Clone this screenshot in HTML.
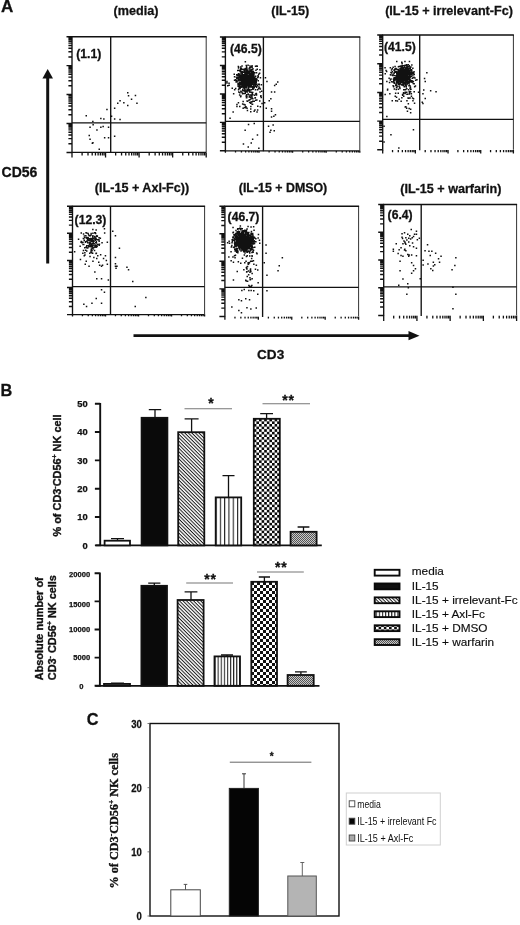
<!DOCTYPE html>
<html lang="en"><head><meta charset="utf-8"><title>Figure</title>
<style>
html,body{margin:0;padding:0;background:#fff;}
body{width:520px;height:925px;overflow:hidden;}
svg{display:block;}
text{font-family:"Liberation Sans",Arial,Helvetica,sans-serif;fill:#111;}
.b{font-weight:bold;stroke:#111;stroke-width:0.28px;}
.rot{stroke:#111;stroke-width:0.35px;}
.tl{stroke:#111;stroke-width:0.25px;}
.serif{font-family:"Liberation Serif","Times New Roman",serif;font-weight:bold;}
</style></head><body>
<svg width="520" height="925" viewBox="0 0 520 925">
<defs>
<pattern id="hatch" width="2.5" height="2.5" patternUnits="userSpaceOnUse" patternTransform="rotate(45)">
<rect width="2.5" height="2.5" fill="#fff"/><rect width="2.5" height="1.0" fill="#1a1a1a"/></pattern>
<pattern id="vstripe" width="4.3" height="4" patternUnits="userSpaceOnUse" x="215.5">
<rect width="4.3" height="4" fill="#fff"/><rect width="1.1" height="4" fill="#222"/></pattern>
<pattern id="vstripe2" width="3.1" height="4" patternUnits="userSpaceOnUse" x="214.5">
<rect width="3.1" height="4" fill="#fff"/><rect width="1.1" height="4" fill="#222"/></pattern>
<pattern id="check" width="5.2" height="5.2" patternUnits="userSpaceOnUse" x="253.8" y="418.8">
<rect width="5.2" height="5.2" fill="#fff"/><rect width="2.6" height="2.6" fill="#0a0a0a"/><rect x="2.6" y="2.6" width="2.6" height="2.6" fill="#0a0a0a"/></pattern>
<pattern id="check2" width="6" height="6" patternUnits="userSpaceOnUse" x="251">
<rect width="6" height="6" fill="#fff"/><rect width="3" height="3" fill="#111"/><rect x="3" y="3" width="3" height="3" fill="#111"/></pattern>
<pattern id="xhatch" width="2" height="2" patternUnits="userSpaceOnUse">
<rect width="2" height="2" fill="#c8c8c8"/><rect width="1" height="1" fill="#555"/><rect x="1" y="1" width="1" height="1" fill="#555"/></pattern>
</defs>
<rect width="520" height="925" fill="#fff"/>

<text class="b" x="1" y="11.8" font-size="17">A</text>
<text class="b" x="136" y="15.2" font-size="12.6" text-anchor="middle">(media)</text>
<text class="b" x="290.2" y="15.2" font-size="12.6" text-anchor="middle">(IL-15)</text>
<text class="b" x="449" y="15" font-size="12.6" text-anchor="middle">(IL-15 + irrelevant-Fc)</text>
<text class="b" x="142" y="192.3" font-size="12.6" text-anchor="middle">(IL-15 + Axl-Fc))</text>
<text class="b" x="283" y="192.3" font-size="12.4" text-anchor="middle">(IL-15 + DMSO)</text>
<text class="b" x="450.8" y="192.8" font-size="12.6" text-anchor="middle">(IL-15 + warfarin)</text>
<path d="M66.5 152.40H72.0M68.4 143.69H72.0M68.4 138.60H72.0M68.4 134.99H72.0M68.4 132.18H72.0M68.4 129.89H72.0M68.4 127.96H72.0M68.4 126.28H72.0M68.4 124.80H72.0M66.5 123.48H72.0M68.4 114.77H72.0M68.4 109.67H72.0M68.4 106.06H72.0M68.4 103.26H72.0M68.4 100.97H72.0M68.4 99.03H72.0M68.4 97.35H72.0M68.4 95.87H72.0M66.5 94.55H72.0M68.4 85.84H72.0M68.4 80.75H72.0M68.4 77.14H72.0M68.4 74.33H72.0M68.4 72.04H72.0M68.4 70.11H72.0M68.4 68.43H72.0M68.4 66.95H72.0M66.5 65.62H72.0M68.4 56.92H72.0M68.4 51.82H72.0M68.4 48.21H72.0M68.4 45.41H72.0M68.4 43.12H72.0M68.4 41.18H72.0M68.4 39.50H72.0M68.4 38.02H72.0M66.5 36.70H72.0" stroke="#111" stroke-width="1.45" fill="none"/>
<path d="M72.00 152.4V157.4M82.10 152.4V155.4M88.01 152.4V155.4M92.20 152.4V155.4M95.45 152.4V155.4M98.11 152.4V155.4M100.35 152.4V155.4M102.30 152.4V155.4M104.01 152.4V155.4M105.55 152.4V157.4M115.65 152.4V155.4M121.56 152.4V155.4M125.75 152.4V155.4M129.00 152.4V155.4M131.66 152.4V155.4M133.90 152.4V155.4M135.85 152.4V155.4M137.56 152.4V155.4M139.10 152.4V157.4M149.20 152.4V155.4M155.11 152.4V155.4M159.30 152.4V155.4M162.55 152.4V155.4M165.21 152.4V155.4M167.45 152.4V155.4M169.40 152.4V155.4M171.11 152.4V155.4M172.65 152.4V157.4M182.75 152.4V155.4M188.66 152.4V155.4M192.85 152.4V155.4M196.10 152.4V155.4M198.76 152.4V155.4M201.00 152.4V155.4M202.95 152.4V155.4M204.66 152.4V155.4M206.20 152.4V157.4" stroke="#111" stroke-width="1.3" fill="none"/>
<rect x="72" y="36.7" width="134.2" height="115.7" fill="#fff"/>
<path d="M206.2 36.7V152.4" stroke="#333" stroke-width="1" fill="none"/>
<path d="M72 152.4H206.2" stroke="#111" stroke-width="1.2" fill="none"/>
<path d="M72 153.0V36.7H206.7" stroke="#111" stroke-width="1.35" fill="none"/>
<path d="M110.7 36.7V152.9M72 122.8H206.2" stroke="#111" stroke-width="1.35" fill="none"/>
<path d="M85.5 115.1h1.5v1.5h-1.5zM92.1 120.8h1.5v1.5h-1.5zM100.1 117.8h1.5v1.5h-1.5zM103.1 118.2h1.5v1.5h-1.5zM106.2 108.8h1.5v1.5h-1.5zM113.9 107.5h1.5v1.5h-1.5zM117.0 102.4h1.5v1.5h-1.5zM119.3 100.1h1.5v1.5h-1.5zM123.1 101.9h1.5v1.5h-1.5zM127.0 92.1h1.5v1.5h-1.5zM127.8 95.1h1.5v1.5h-1.5zM130.8 98.5h1.5v1.5h-1.5zM134.7 94.7h1.5v1.5h-1.5zM127.0 104.7h1.5v1.5h-1.5zM136.2 102.4h1.5v1.5h-1.5zM113.9 118.2h1.5v1.5h-1.5zM119.3 118.8h1.5v1.5h-1.5zM110.8 115.5h1.5v1.5h-1.5zM89.3 126.5h1.5v1.5h-1.5zM92.4 123.9h1.5v1.5h-1.5zM96.2 129.3h1.5v1.5h-1.5zM100.1 126.5h1.5v1.5h-1.5zM102.4 125.8h1.5v1.5h-1.5zM107.8 126.5h1.5v1.5h-1.5zM88.5 134.7h1.5v1.5h-1.5zM89.3 138.5h1.5v1.5h-1.5zM91.6 142.4h1.5v1.5h-1.5zM92.2 141.9h1.5v1.5h-1.5zM103.9 137.0h1.5v1.5h-1.5zM107.8 137.0h1.5v1.5h-1.5zM113.9 135.5h1.5v1.5h-1.5zM98.5 148.5h1.5v1.5h-1.5z" fill="#111"/>
<text class="b" x="76.2" y="57.8" font-size="12.2">(1.1)</text>
<path d="M219.9 150.80H225.4M221.8 142.24H225.4M221.8 137.23H225.4M221.8 133.67H225.4M221.8 130.91H225.4M221.8 128.66H225.4M221.8 126.76H225.4M221.8 125.11H225.4M221.8 123.65H225.4M219.9 122.35H225.4M221.8 113.79H225.4M221.8 108.78H225.4M221.8 105.22H225.4M221.8 102.46H225.4M221.8 100.21H225.4M221.8 98.31H225.4M221.8 96.66H225.4M221.8 95.20H225.4M219.9 93.90H225.4M221.8 85.34H225.4M221.8 80.33H225.4M221.8 76.77H225.4M221.8 74.01H225.4M221.8 71.76H225.4M221.8 69.86H225.4M221.8 68.21H225.4M221.8 66.75H225.4M219.9 65.45H225.4M221.8 56.89H225.4M221.8 51.88H225.4M221.8 48.32H225.4M221.8 45.56H225.4M221.8 43.31H225.4M221.8 41.41H225.4M221.8 39.76H225.4M221.8 38.30H225.4M219.9 37.00H225.4" stroke="#111" stroke-width="1.45" fill="none"/>
<path d="M225.40 150.8V152.8M235.51 150.8V152.4M241.43 150.8V152.4M245.63 150.8V152.4M248.89 150.8V152.4M251.55 150.8V152.4M253.80 150.8V152.4M255.74 150.8V152.4M257.46 150.8V152.4M259.00 150.8V152.8M269.11 150.8V152.4M275.03 150.8V152.4M279.23 150.8V152.4M282.49 150.8V152.4M285.15 150.8V152.4M287.40 150.8V152.4M289.34 150.8V152.4M291.06 150.8V152.4M292.60 150.8V152.8M302.71 150.8V152.4M308.63 150.8V152.4M312.83 150.8V152.4M316.09 150.8V152.4M318.75 150.8V152.4M321.00 150.8V152.4M322.94 150.8V152.4M324.66 150.8V152.4M326.20 150.8V152.8M336.31 150.8V152.4M342.23 150.8V152.4M346.43 150.8V152.4M349.69 150.8V152.4M352.35 150.8V152.4M354.60 150.8V152.4M356.54 150.8V152.4M358.26 150.8V152.4M359.80 150.8V152.8" stroke="#111" stroke-width="1.3" fill="none"/>
<rect x="225.4" y="37" width="134.4" height="113.8" fill="#fff"/>
<path d="M359.8 37V150.8" stroke="#333" stroke-width="1" fill="none"/>
<path d="M225.4 150.8H359.8" stroke="#111" stroke-width="1.2" fill="none"/>
<path d="M225.4 151.4V37H360.3" stroke="#111" stroke-width="1.35" fill="none"/>
<path d="M263.4 37V151.3M225.4 121.4H359.8" stroke="#111" stroke-width="1.35" fill="none"/>
<path d="M245.1 80.9h1.5v1.5h-1.5zM245.3 76.7h1.5v1.5h-1.5zM242.0 77.2h1.5v1.5h-1.5zM251.4 80.4h1.5v1.5h-1.5zM251.1 79.5h1.5v1.5h-1.5zM248.1 79.2h1.5v1.5h-1.5zM238.6 82.6h1.5v1.5h-1.5zM248.6 80.8h1.5v1.5h-1.5zM238.5 69.6h1.5v1.5h-1.5zM242.2 76.0h1.5v1.5h-1.5zM247.7 78.1h1.5v1.5h-1.5zM248.7 75.1h1.5v1.5h-1.5zM247.7 80.3h1.5v1.5h-1.5zM243.3 86.9h1.5v1.5h-1.5zM248.9 84.3h1.5v1.5h-1.5zM243.4 74.6h1.5v1.5h-1.5zM244.7 77.8h1.5v1.5h-1.5zM249.2 79.5h1.5v1.5h-1.5zM244.2 73.5h1.5v1.5h-1.5zM243.9 84.4h1.5v1.5h-1.5zM242.6 79.5h1.5v1.5h-1.5zM248.3 70.9h1.5v1.5h-1.5zM246.5 84.8h1.5v1.5h-1.5zM237.0 76.7h1.5v1.5h-1.5zM245.8 74.2h1.5v1.5h-1.5zM248.6 78.0h1.5v1.5h-1.5zM239.6 82.4h1.5v1.5h-1.5zM249.4 83.0h1.5v1.5h-1.5zM252.9 80.1h1.5v1.5h-1.5zM246.8 71.8h1.5v1.5h-1.5zM249.1 75.2h1.5v1.5h-1.5zM244.2 72.0h1.5v1.5h-1.5zM241.8 75.6h1.5v1.5h-1.5zM252.2 68.1h1.5v1.5h-1.5zM239.6 79.5h1.5v1.5h-1.5zM252.9 81.2h1.5v1.5h-1.5zM237.6 65.7h1.5v1.5h-1.5zM247.9 74.6h1.5v1.5h-1.5zM241.1 83.2h1.5v1.5h-1.5zM251.4 79.1h1.5v1.5h-1.5zM247.4 80.5h1.5v1.5h-1.5zM253.6 81.4h1.5v1.5h-1.5zM248.7 81.0h1.5v1.5h-1.5zM239.1 84.7h1.5v1.5h-1.5zM250.7 80.9h1.5v1.5h-1.5zM237.2 75.1h1.5v1.5h-1.5zM250.2 69.2h1.5v1.5h-1.5zM245.5 83.4h1.5v1.5h-1.5zM240.3 86.4h1.5v1.5h-1.5zM248.8 77.5h1.5v1.5h-1.5zM247.8 81.5h1.5v1.5h-1.5zM246.9 84.0h1.5v1.5h-1.5zM243.3 76.2h1.5v1.5h-1.5zM251.1 78.4h1.5v1.5h-1.5zM242.2 83.0h1.5v1.5h-1.5zM253.0 76.1h1.5v1.5h-1.5zM240.0 77.6h1.5v1.5h-1.5zM245.6 76.8h1.5v1.5h-1.5zM252.8 73.2h1.5v1.5h-1.5zM252.1 72.0h1.5v1.5h-1.5zM242.7 81.5h1.5v1.5h-1.5zM251.5 82.6h1.5v1.5h-1.5zM247.9 79.0h1.5v1.5h-1.5zM247.0 81.2h1.5v1.5h-1.5zM245.5 79.7h1.5v1.5h-1.5zM248.9 78.3h1.5v1.5h-1.5zM249.8 81.1h1.5v1.5h-1.5zM255.5 79.9h1.5v1.5h-1.5zM244.3 76.4h1.5v1.5h-1.5zM246.2 82.9h1.5v1.5h-1.5zM244.8 80.2h1.5v1.5h-1.5zM254.8 65.5h1.5v1.5h-1.5zM241.1 79.5h1.5v1.5h-1.5zM248.1 79.5h1.5v1.5h-1.5zM244.3 81.6h1.5v1.5h-1.5zM247.6 75.7h1.5v1.5h-1.5zM257.5 80.1h1.5v1.5h-1.5zM243.8 77.8h1.5v1.5h-1.5zM245.3 78.0h1.5v1.5h-1.5zM233.8 75.9h1.5v1.5h-1.5zM250.9 72.5h1.5v1.5h-1.5zM246.0 83.1h1.5v1.5h-1.5zM250.2 85.8h1.5v1.5h-1.5zM238.5 76.5h1.5v1.5h-1.5zM244.7 81.4h1.5v1.5h-1.5zM251.3 64.9h1.5v1.5h-1.5zM251.3 71.1h1.5v1.5h-1.5zM249.4 70.8h1.5v1.5h-1.5zM247.1 84.3h1.5v1.5h-1.5zM245.6 79.3h1.5v1.5h-1.5zM250.0 79.0h1.5v1.5h-1.5zM245.9 86.0h1.5v1.5h-1.5zM251.1 76.8h1.5v1.5h-1.5zM258.9 72.6h1.5v1.5h-1.5zM250.5 77.0h1.5v1.5h-1.5zM246.9 81.8h1.5v1.5h-1.5zM247.3 81.5h1.5v1.5h-1.5zM239.3 70.8h1.5v1.5h-1.5zM249.1 73.5h1.5v1.5h-1.5zM241.6 70.9h1.5v1.5h-1.5zM252.1 82.0h1.5v1.5h-1.5zM253.1 73.6h1.5v1.5h-1.5zM246.3 72.6h1.5v1.5h-1.5zM249.8 86.2h1.5v1.5h-1.5zM242.2 86.1h1.5v1.5h-1.5zM250.8 77.4h1.5v1.5h-1.5zM237.2 85.3h1.5v1.5h-1.5zM245.9 75.3h1.5v1.5h-1.5zM248.1 80.3h1.5v1.5h-1.5zM253.2 73.2h1.5v1.5h-1.5zM251.5 85.7h1.5v1.5h-1.5zM253.0 77.4h1.5v1.5h-1.5zM242.9 83.4h1.5v1.5h-1.5zM246.8 78.9h1.5v1.5h-1.5zM252.9 77.0h1.5v1.5h-1.5zM235.7 76.4h1.5v1.5h-1.5zM237.8 82.4h1.5v1.5h-1.5zM247.8 75.2h1.5v1.5h-1.5zM246.3 82.5h1.5v1.5h-1.5zM246.7 84.9h1.5v1.5h-1.5zM246.0 83.5h1.5v1.5h-1.5zM253.2 86.3h1.5v1.5h-1.5zM243.2 82.7h1.5v1.5h-1.5zM237.7 72.9h1.5v1.5h-1.5zM237.3 83.6h1.5v1.5h-1.5zM240.6 78.2h1.5v1.5h-1.5zM245.4 78.2h1.5v1.5h-1.5zM243.6 79.5h1.5v1.5h-1.5zM254.5 78.5h1.5v1.5h-1.5zM248.7 83.3h1.5v1.5h-1.5zM245.4 72.0h1.5v1.5h-1.5zM243.7 83.7h1.5v1.5h-1.5zM238.7 75.3h1.5v1.5h-1.5zM250.9 82.3h1.5v1.5h-1.5zM246.3 82.3h1.5v1.5h-1.5zM247.1 72.4h1.5v1.5h-1.5zM239.1 75.1h1.5v1.5h-1.5zM250.5 75.5h1.5v1.5h-1.5zM242.1 74.4h1.5v1.5h-1.5zM239.3 77.7h1.5v1.5h-1.5zM240.9 80.1h1.5v1.5h-1.5zM235.4 79.9h1.5v1.5h-1.5zM243.3 68.6h1.5v1.5h-1.5zM249.6 76.9h1.5v1.5h-1.5zM236.0 73.9h1.5v1.5h-1.5zM247.6 76.0h1.5v1.5h-1.5zM249.9 82.0h1.5v1.5h-1.5zM249.4 79.9h1.5v1.5h-1.5zM252.4 81.6h1.5v1.5h-1.5zM248.4 67.9h1.5v1.5h-1.5zM250.4 84.8h1.5v1.5h-1.5zM244.9 76.0h1.5v1.5h-1.5zM255.2 69.5h1.5v1.5h-1.5zM248.5 90.4h1.5v1.5h-1.5zM242.0 81.7h1.5v1.5h-1.5zM255.0 77.7h1.5v1.5h-1.5zM248.9 82.8h1.5v1.5h-1.5zM242.1 77.9h1.5v1.5h-1.5zM247.6 82.4h1.5v1.5h-1.5zM246.1 77.3h1.5v1.5h-1.5zM241.6 76.5h1.5v1.5h-1.5zM250.4 78.8h1.5v1.5h-1.5zM242.4 74.1h1.5v1.5h-1.5zM258.6 84.0h1.5v1.5h-1.5zM249.2 65.3h1.5v1.5h-1.5zM249.2 80.7h1.5v1.5h-1.5zM254.0 80.4h1.5v1.5h-1.5zM246.0 80.9h1.5v1.5h-1.5zM237.4 83.5h1.5v1.5h-1.5zM247.8 74.8h1.5v1.5h-1.5zM252.4 87.3h1.5v1.5h-1.5zM239.8 75.0h1.5v1.5h-1.5zM247.6 79.2h1.5v1.5h-1.5zM244.5 73.4h1.5v1.5h-1.5zM256.1 83.5h1.5v1.5h-1.5zM240.8 71.6h1.5v1.5h-1.5zM254.1 83.2h1.5v1.5h-1.5zM254.7 82.4h1.5v1.5h-1.5zM242.3 79.6h1.5v1.5h-1.5zM236.4 74.6h1.5v1.5h-1.5zM246.0 80.9h1.5v1.5h-1.5zM243.0 77.7h1.5v1.5h-1.5zM248.4 80.2h1.5v1.5h-1.5zM249.2 79.3h1.5v1.5h-1.5zM244.8 82.2h1.5v1.5h-1.5zM246.5 74.2h1.5v1.5h-1.5zM243.4 78.3h1.5v1.5h-1.5zM245.8 79.1h1.5v1.5h-1.5zM246.3 79.2h1.5v1.5h-1.5zM245.7 72.0h1.5v1.5h-1.5zM248.2 83.6h1.5v1.5h-1.5zM248.3 77.4h1.5v1.5h-1.5zM248.4 73.5h1.5v1.5h-1.5zM237.6 78.6h1.5v1.5h-1.5zM242.0 82.0h1.5v1.5h-1.5zM241.3 65.2h1.5v1.5h-1.5zM241.5 86.2h1.5v1.5h-1.5zM244.5 71.5h1.5v1.5h-1.5zM242.8 80.9h1.5v1.5h-1.5zM248.6 79.2h1.5v1.5h-1.5zM253.1 81.8h1.5v1.5h-1.5zM246.2 81.3h1.5v1.5h-1.5zM253.9 83.2h1.5v1.5h-1.5zM251.0 72.9h1.5v1.5h-1.5zM245.6 81.9h1.5v1.5h-1.5zM244.9 83.6h1.5v1.5h-1.5zM249.0 82.8h1.5v1.5h-1.5zM245.3 91.0h1.5v1.5h-1.5zM252.0 77.2h1.5v1.5h-1.5zM246.7 91.3h1.5v1.5h-1.5zM244.7 82.7h1.5v1.5h-1.5zM250.8 78.3h1.5v1.5h-1.5zM240.9 79.2h1.5v1.5h-1.5zM248.0 83.9h1.5v1.5h-1.5zM249.9 78.4h1.5v1.5h-1.5zM250.2 81.0h1.5v1.5h-1.5zM247.2 78.6h1.5v1.5h-1.5zM245.2 81.7h1.5v1.5h-1.5zM241.5 75.2h1.5v1.5h-1.5zM246.3 71.0h1.5v1.5h-1.5zM244.3 68.3h1.5v1.5h-1.5zM243.2 81.1h1.5v1.5h-1.5zM248.9 78.0h1.5v1.5h-1.5zM245.2 71.2h1.5v1.5h-1.5zM254.7 80.9h1.5v1.5h-1.5zM251.3 73.9h1.5v1.5h-1.5zM245.4 69.2h1.5v1.5h-1.5zM249.9 83.0h1.5v1.5h-1.5zM237.6 78.0h1.5v1.5h-1.5zM249.2 69.5h1.5v1.5h-1.5zM237.9 73.0h1.5v1.5h-1.5zM243.4 71.3h1.5v1.5h-1.5zM246.4 79.5h1.5v1.5h-1.5zM249.2 81.8h1.5v1.5h-1.5zM253.2 84.1h1.5v1.5h-1.5zM240.3 75.8h1.5v1.5h-1.5zM241.4 72.9h1.5v1.5h-1.5zM245.9 78.3h1.5v1.5h-1.5zM248.6 70.4h1.5v1.5h-1.5zM240.6 78.2h1.5v1.5h-1.5zM245.4 76.7h1.5v1.5h-1.5zM246.0 74.5h1.5v1.5h-1.5zM249.5 80.1h1.5v1.5h-1.5zM245.9 74.9h1.5v1.5h-1.5zM245.5 64.7h1.5v1.5h-1.5zM241.8 78.5h1.5v1.5h-1.5zM239.4 79.3h1.5v1.5h-1.5zM247.0 71.4h1.5v1.5h-1.5zM245.1 76.7h1.5v1.5h-1.5zM248.4 81.4h1.5v1.5h-1.5zM246.1 74.0h1.5v1.5h-1.5zM245.6 78.0h1.5v1.5h-1.5zM249.7 79.8h1.5v1.5h-1.5zM243.0 71.5h1.5v1.5h-1.5zM244.6 74.6h1.5v1.5h-1.5zM241.2 77.7h1.5v1.5h-1.5zM244.0 78.8h1.5v1.5h-1.5zM248.7 76.2h1.5v1.5h-1.5zM257.0 76.7h1.5v1.5h-1.5zM251.4 78.9h1.5v1.5h-1.5zM251.4 66.4h1.5v1.5h-1.5zM242.8 79.5h1.5v1.5h-1.5zM249.1 90.0h1.5v1.5h-1.5zM247.8 84.7h1.5v1.5h-1.5zM249.8 83.0h1.5v1.5h-1.5zM248.6 77.5h1.5v1.5h-1.5zM248.6 72.9h1.5v1.5h-1.5zM251.7 73.2h1.5v1.5h-1.5zM247.4 88.9h1.5v1.5h-1.5zM245.3 78.4h1.5v1.5h-1.5zM251.6 78.4h1.5v1.5h-1.5zM242.6 79.6h1.5v1.5h-1.5zM249.0 81.9h1.5v1.5h-1.5zM242.7 87.1h1.5v1.5h-1.5zM254.0 78.4h1.5v1.5h-1.5zM247.5 76.2h1.5v1.5h-1.5zM252.8 74.8h1.5v1.5h-1.5zM249.4 75.9h1.5v1.5h-1.5zM243.1 81.9h1.5v1.5h-1.5zM252.4 78.2h1.5v1.5h-1.5zM243.2 82.4h1.5v1.5h-1.5zM246.1 79.9h1.5v1.5h-1.5zM253.3 84.0h1.5v1.5h-1.5zM243.9 89.7h1.5v1.5h-1.5zM246.3 82.2h1.5v1.5h-1.5zM243.3 78.1h1.5v1.5h-1.5zM238.3 87.2h1.5v1.5h-1.5zM252.6 72.2h1.5v1.5h-1.5zM239.4 70.2h1.5v1.5h-1.5zM251.7 76.0h1.5v1.5h-1.5zM246.0 76.7h1.5v1.5h-1.5zM245.7 72.9h1.5v1.5h-1.5zM246.4 71.1h1.5v1.5h-1.5zM246.0 79.8h1.5v1.5h-1.5zM248.5 77.1h1.5v1.5h-1.5zM242.1 79.1h1.5v1.5h-1.5zM244.1 86.1h1.5v1.5h-1.5zM249.8 77.7h1.5v1.5h-1.5zM244.1 74.8h1.5v1.5h-1.5zM242.0 76.5h1.5v1.5h-1.5zM247.7 80.9h1.5v1.5h-1.5zM248.9 88.8h1.5v1.5h-1.5zM243.1 78.4h1.5v1.5h-1.5zM259.2 69.0h1.5v1.5h-1.5zM243.9 79.1h1.5v1.5h-1.5zM247.0 80.3h1.5v1.5h-1.5zM245.2 80.1h1.5v1.5h-1.5zM246.5 82.2h1.5v1.5h-1.5zM237.6 73.9h1.5v1.5h-1.5zM246.3 73.1h1.5v1.5h-1.5zM241.5 81.4h1.5v1.5h-1.5zM243.3 81.5h1.5v1.5h-1.5zM249.7 79.8h1.5v1.5h-1.5zM248.6 77.8h1.5v1.5h-1.5zM239.8 78.1h1.5v1.5h-1.5zM248.4 75.7h1.5v1.5h-1.5zM245.8 82.0h1.5v1.5h-1.5zM242.3 81.5h1.5v1.5h-1.5zM254.9 75.5h1.5v1.5h-1.5zM247.0 77.5h1.5v1.5h-1.5zM253.4 79.9h1.5v1.5h-1.5zM250.4 74.8h1.5v1.5h-1.5zM246.2 78.3h1.5v1.5h-1.5zM238.1 85.5h1.5v1.5h-1.5zM250.4 69.6h1.5v1.5h-1.5zM249.7 77.6h1.5v1.5h-1.5zM248.4 80.1h1.5v1.5h-1.5zM239.4 77.2h1.5v1.5h-1.5zM253.2 75.4h1.5v1.5h-1.5zM241.6 71.5h1.5v1.5h-1.5zM240.7 80.0h1.5v1.5h-1.5zM254.1 80.4h1.5v1.5h-1.5zM247.4 89.5h1.5v1.5h-1.5zM243.9 74.9h1.5v1.5h-1.5zM248.7 81.0h1.5v1.5h-1.5zM241.6 72.5h1.5v1.5h-1.5zM247.6 79.5h1.5v1.5h-1.5zM240.3 77.3h1.5v1.5h-1.5zM243.8 80.6h1.5v1.5h-1.5zM245.8 77.9h1.5v1.5h-1.5zM244.7 83.6h1.5v1.5h-1.5zM252.7 76.5h1.5v1.5h-1.5zM250.2 74.5h1.5v1.5h-1.5zM246.6 82.0h1.5v1.5h-1.5zM253.3 76.4h1.5v1.5h-1.5zM246.0 79.3h1.5v1.5h-1.5zM239.4 78.4h1.5v1.5h-1.5zM243.2 80.2h1.5v1.5h-1.5zM241.1 68.4h1.5v1.5h-1.5zM246.5 79.6h1.5v1.5h-1.5zM243.8 82.7h1.5v1.5h-1.5zM245.0 75.3h1.5v1.5h-1.5zM248.5 70.5h1.5v1.5h-1.5zM243.2 78.2h1.5v1.5h-1.5zM250.2 77.5h1.5v1.5h-1.5zM247.7 75.0h1.5v1.5h-1.5zM247.7 86.6h1.5v1.5h-1.5zM243.1 90.1h1.5v1.5h-1.5zM243.3 78.4h1.5v1.5h-1.5zM247.1 83.4h1.5v1.5h-1.5zM240.6 67.8h1.5v1.5h-1.5zM249.1 82.3h1.5v1.5h-1.5zM249.2 91.5h1.5v1.5h-1.5zM247.2 79.6h1.5v1.5h-1.5zM250.6 80.1h1.5v1.5h-1.5zM254.0 72.1h1.5v1.5h-1.5zM244.6 61.1h1.5v1.5h-1.5zM250.0 76.4h1.5v1.5h-1.5zM250.6 89.1h1.5v1.5h-1.5zM246.3 77.0h1.5v1.5h-1.5zM244.0 74.1h1.5v1.5h-1.5zM243.4 81.5h1.5v1.5h-1.5zM246.5 78.6h1.5v1.5h-1.5zM245.5 82.9h1.5v1.5h-1.5zM248.6 77.6h1.5v1.5h-1.5zM249.4 77.5h1.5v1.5h-1.5zM241.0 85.6h1.5v1.5h-1.5zM248.4 73.5h1.5v1.5h-1.5zM251.3 80.0h1.5v1.5h-1.5zM239.1 86.3h1.5v1.5h-1.5zM247.8 82.8h1.5v1.5h-1.5zM247.2 77.6h1.5v1.5h-1.5zM239.2 83.2h1.5v1.5h-1.5zM246.4 76.9h1.5v1.5h-1.5zM247.9 78.7h1.5v1.5h-1.5zM249.4 76.4h1.5v1.5h-1.5zM246.1 67.6h1.5v1.5h-1.5zM244.4 81.7h1.5v1.5h-1.5zM252.4 76.5h1.5v1.5h-1.5zM245.7 86.2h1.5v1.5h-1.5zM244.8 82.0h1.5v1.5h-1.5zM254.0 78.5h1.5v1.5h-1.5zM251.9 74.7h1.5v1.5h-1.5zM247.3 77.9h1.5v1.5h-1.5zM246.8 83.9h1.5v1.5h-1.5zM257.3 75.0h1.5v1.5h-1.5zM243.7 80.8h1.5v1.5h-1.5zM241.4 80.8h1.5v1.5h-1.5zM248.9 76.9h1.5v1.5h-1.5zM248.7 70.6h1.5v1.5h-1.5zM249.8 70.6h1.5v1.5h-1.5zM243.1 75.5h1.5v1.5h-1.5zM244.5 82.6h1.5v1.5h-1.5zM246.7 76.3h1.5v1.5h-1.5zM248.8 86.2h1.5v1.5h-1.5zM246.3 80.1h1.5v1.5h-1.5zM252.0 79.6h1.5v1.5h-1.5zM240.4 90.8h1.5v1.5h-1.5zM256.5 68.4h1.5v1.5h-1.5zM246.1 80.4h1.5v1.5h-1.5zM250.7 81.6h1.5v1.5h-1.5zM245.0 73.0h1.5v1.5h-1.5zM246.8 83.5h1.5v1.5h-1.5zM241.3 73.2h1.5v1.5h-1.5zM246.2 68.6h1.5v1.5h-1.5zM245.1 76.1h1.5v1.5h-1.5zM248.4 74.8h1.5v1.5h-1.5zM242.2 76.3h1.5v1.5h-1.5zM246.1 75.0h1.5v1.5h-1.5zM246.4 82.1h1.5v1.5h-1.5zM251.8 86.8h1.5v1.5h-1.5zM242.7 76.2h1.5v1.5h-1.5zM234.9 87.8h1.5v1.5h-1.5zM243.0 78.1h1.5v1.5h-1.5zM248.7 71.5h1.5v1.5h-1.5zM248.4 78.2h1.5v1.5h-1.5zM237.9 79.8h1.5v1.5h-1.5zM251.8 69.0h1.5v1.5h-1.5zM250.0 79.3h1.5v1.5h-1.5zM248.5 80.5h1.5v1.5h-1.5zM252.3 77.2h1.5v1.5h-1.5zM250.3 76.3h1.5v1.5h-1.5zM249.6 74.2h1.5v1.5h-1.5zM245.8 87.0h1.5v1.5h-1.5zM248.3 77.5h1.5v1.5h-1.5zM241.0 74.3h1.5v1.5h-1.5zM247.2 83.0h1.5v1.5h-1.5zM248.3 80.9h1.5v1.5h-1.5zM246.1 85.1h1.5v1.5h-1.5zM244.5 75.6h1.5v1.5h-1.5zM250.4 78.6h1.5v1.5h-1.5zM245.0 75.4h1.5v1.5h-1.5zM245.1 81.4h1.5v1.5h-1.5zM247.9 72.3h1.5v1.5h-1.5zM248.3 79.2h1.5v1.5h-1.5zM241.7 82.2h1.5v1.5h-1.5zM245.0 76.6h1.5v1.5h-1.5zM250.0 84.9h1.5v1.5h-1.5zM243.1 80.5h1.5v1.5h-1.5zM242.3 89.9h1.5v1.5h-1.5zM244.0 84.3h1.5v1.5h-1.5zM243.3 82.4h1.5v1.5h-1.5zM256.5 65.6h1.5v1.5h-1.5zM244.3 80.8h1.5v1.5h-1.5zM245.9 75.0h1.5v1.5h-1.5zM256.2 78.7h1.5v1.5h-1.5zM238.7 82.6h1.5v1.5h-1.5zM238.4 84.1h1.5v1.5h-1.5zM243.6 79.0h1.5v1.5h-1.5zM252.1 78.9h1.5v1.5h-1.5zM239.9 69.8h1.5v1.5h-1.5zM251.7 82.0h1.5v1.5h-1.5zM242.5 82.6h1.5v1.5h-1.5zM248.6 81.5h1.5v1.5h-1.5zM235.9 76.8h1.5v1.5h-1.5zM250.4 82.0h1.5v1.5h-1.5zM250.4 66.0h1.5v1.5h-1.5zM247.1 80.8h1.5v1.5h-1.5zM258.0 73.5h1.5v1.5h-1.5zM244.8 78.5h1.5v1.5h-1.5zM250.4 76.1h1.5v1.5h-1.5zM251.6 74.4h1.5v1.5h-1.5zM247.5 75.7h1.5v1.5h-1.5zM247.0 74.8h1.5v1.5h-1.5zM239.0 83.8h1.5v1.5h-1.5zM247.7 75.5h1.5v1.5h-1.5zM247.2 83.3h1.5v1.5h-1.5zM241.8 77.7h1.5v1.5h-1.5zM248.8 80.9h1.5v1.5h-1.5zM244.8 67.8h1.5v1.5h-1.5zM252.0 79.9h1.5v1.5h-1.5zM246.4 76.9h1.5v1.5h-1.5zM247.5 76.2h1.5v1.5h-1.5zM241.6 74.6h1.5v1.5h-1.5zM243.6 75.2h1.5v1.5h-1.5zM241.0 81.5h1.5v1.5h-1.5zM240.3 81.6h1.5v1.5h-1.5zM241.6 80.1h1.5v1.5h-1.5zM252.6 79.3h1.5v1.5h-1.5zM242.9 78.5h1.5v1.5h-1.5zM247.0 69.6h1.5v1.5h-1.5zM243.5 79.1h1.5v1.5h-1.5zM244.1 78.7h1.5v1.5h-1.5zM249.7 82.1h1.5v1.5h-1.5zM250.5 81.2h1.5v1.5h-1.5zM245.0 78.2h1.5v1.5h-1.5zM245.1 76.7h1.5v1.5h-1.5zM245.5 69.7h1.5v1.5h-1.5zM244.8 78.2h1.5v1.5h-1.5zM241.8 78.2h1.5v1.5h-1.5zM248.7 77.5h1.5v1.5h-1.5zM255.9 65.3h1.5v1.5h-1.5zM245.4 69.2h1.5v1.5h-1.5zM250.8 91.6h1.5v1.5h-1.5zM234.8 78.9h1.5v1.5h-1.5zM248.7 76.8h1.5v1.5h-1.5zM248.8 67.1h1.5v1.5h-1.5zM250.2 80.2h1.5v1.5h-1.5zM246.4 75.4h1.5v1.5h-1.5zM249.2 75.9h1.5v1.5h-1.5zM247.3 75.7h1.5v1.5h-1.5zM236.0 78.1h1.5v1.5h-1.5zM247.2 82.1h1.5v1.5h-1.5zM242.3 78.1h1.5v1.5h-1.5zM249.1 79.0h1.5v1.5h-1.5zM252.0 88.3h1.5v1.5h-1.5zM242.1 68.7h1.5v1.5h-1.5zM250.2 85.9h1.5v1.5h-1.5zM250.5 82.4h1.5v1.5h-1.5zM243.5 74.7h1.5v1.5h-1.5zM250.4 73.7h1.5v1.5h-1.5zM238.0 73.3h1.5v1.5h-1.5zM257.8 87.9h1.5v1.5h-1.5zM243.1 74.7h1.5v1.5h-1.5zM247.4 74.6h1.5v1.5h-1.5zM252.3 77.9h1.5v1.5h-1.5zM241.3 84.8h1.5v1.5h-1.5zM243.6 79.4h1.5v1.5h-1.5zM246.2 76.7h1.5v1.5h-1.5zM247.8 74.8h1.5v1.5h-1.5zM237.8 67.3h1.5v1.5h-1.5zM240.5 74.5h1.5v1.5h-1.5zM246.2 78.6h1.5v1.5h-1.5zM248.9 78.9h1.5v1.5h-1.5zM242.7 74.8h1.5v1.5h-1.5zM236.6 77.5h1.5v1.5h-1.5zM248.5 80.9h1.5v1.5h-1.5zM245.7 77.4h1.5v1.5h-1.5zM250.6 78.4h1.5v1.5h-1.5zM249.7 81.2h1.5v1.5h-1.5zM247.3 84.8h1.5v1.5h-1.5zM243.7 76.5h1.5v1.5h-1.5zM242.6 74.3h1.5v1.5h-1.5zM253.5 87.1h1.5v1.5h-1.5zM246.4 81.1h1.5v1.5h-1.5zM251.7 82.3h1.5v1.5h-1.5zM251.8 72.0h1.5v1.5h-1.5zM243.4 80.6h1.5v1.5h-1.5zM252.9 78.8h1.5v1.5h-1.5zM242.4 76.5h1.5v1.5h-1.5zM243.3 74.0h1.5v1.5h-1.5zM253.2 75.2h1.5v1.5h-1.5zM246.4 89.1h1.5v1.5h-1.5zM251.7 80.0h1.5v1.5h-1.5zM243.5 80.4h1.5v1.5h-1.5zM253.8 81.4h1.5v1.5h-1.5zM252.1 78.8h1.5v1.5h-1.5zM248.7 77.3h1.5v1.5h-1.5zM248.3 84.8h1.5v1.5h-1.5zM239.7 78.0h1.5v1.5h-1.5zM247.4 75.4h1.5v1.5h-1.5zM244.9 82.2h1.5v1.5h-1.5zM255.5 81.4h1.5v1.5h-1.5zM247.8 70.5h1.5v1.5h-1.5zM255.2 78.7h1.5v1.5h-1.5zM246.1 72.7h1.5v1.5h-1.5zM246.0 72.8h1.5v1.5h-1.5zM246.6 80.6h1.5v1.5h-1.5zM246.4 79.7h1.5v1.5h-1.5zM242.4 85.4h1.5v1.5h-1.5zM243.3 69.2h1.5v1.5h-1.5zM245.4 74.5h1.5v1.5h-1.5zM241.7 76.5h1.5v1.5h-1.5zM247.6 72.4h1.5v1.5h-1.5zM245.7 85.4h1.5v1.5h-1.5zM249.4 77.5h1.5v1.5h-1.5zM246.9 77.7h1.5v1.5h-1.5zM246.1 82.0h1.5v1.5h-1.5zM245.9 66.3h1.5v1.5h-1.5zM246.2 73.9h1.5v1.5h-1.5zM249.3 75.2h1.5v1.5h-1.5zM247.0 89.2h1.5v1.5h-1.5zM241.5 72.7h1.5v1.5h-1.5zM239.8 66.3h1.5v1.5h-1.5zM237.7 80.1h1.5v1.5h-1.5zM243.4 69.0h1.5v1.5h-1.5zM239.5 81.4h1.5v1.5h-1.5zM242.7 76.5h1.5v1.5h-1.5zM247.8 85.1h1.5v1.5h-1.5zM255.2 83.5h1.5v1.5h-1.5zM247.0 79.2h1.5v1.5h-1.5zM254.6 85.4h1.5v1.5h-1.5zM244.9 80.6h1.5v1.5h-1.5zM247.6 78.6h1.5v1.5h-1.5zM244.0 71.7h1.5v1.5h-1.5zM243.8 70.6h1.5v1.5h-1.5zM251.9 81.0h1.5v1.5h-1.5zM240.8 85.3h1.5v1.5h-1.5zM250.4 68.8h1.5v1.5h-1.5zM254.8 82.3h1.5v1.5h-1.5zM255.8 72.1h1.5v1.5h-1.5zM248.7 80.4h1.5v1.5h-1.5zM247.2 79.2h1.5v1.5h-1.5zM251.1 70.8h1.5v1.5h-1.5zM240.6 71.3h1.5v1.5h-1.5zM243.7 75.3h1.5v1.5h-1.5zM248.0 79.6h1.5v1.5h-1.5zM246.4 74.9h1.5v1.5h-1.5zM244.3 83.1h1.5v1.5h-1.5zM249.8 78.8h1.5v1.5h-1.5zM244.8 86.1h1.5v1.5h-1.5zM243.6 81.5h1.5v1.5h-1.5zM251.6 77.0h1.5v1.5h-1.5zM250.1 72.7h1.5v1.5h-1.5zM251.0 79.3h1.5v1.5h-1.5zM239.0 81.6h1.5v1.5h-1.5zM242.2 84.7h1.5v1.5h-1.5zM243.2 77.5h1.5v1.5h-1.5zM247.6 76.6h1.5v1.5h-1.5zM247.5 75.5h1.5v1.5h-1.5zM249.4 78.3h1.5v1.5h-1.5zM247.3 64.5h1.5v1.5h-1.5zM251.6 78.5h1.5v1.5h-1.5zM238.1 78.8h1.5v1.5h-1.5zM248.4 83.7h1.5v1.5h-1.5zM241.3 86.0h1.5v1.5h-1.5zM245.6 90.3h1.5v1.5h-1.5zM245.6 81.7h1.5v1.5h-1.5zM244.6 72.7h1.5v1.5h-1.5zM251.3 82.8h1.5v1.5h-1.5zM253.4 82.6h1.5v1.5h-1.5zM243.7 70.0h1.5v1.5h-1.5zM243.3 74.9h1.5v1.5h-1.5zM242.6 81.2h1.5v1.5h-1.5zM247.8 77.0h1.5v1.5h-1.5zM247.1 77.6h1.5v1.5h-1.5zM247.3 82.1h1.5v1.5h-1.5zM250.7 74.9h1.5v1.5h-1.5zM239.4 85.4h1.5v1.5h-1.5zM246.8 83.8h1.5v1.5h-1.5zM238.7 76.7h1.5v1.5h-1.5zM246.4 71.1h1.5v1.5h-1.5zM243.9 81.9h1.5v1.5h-1.5zM251.3 86.3h1.5v1.5h-1.5zM242.3 71.3h1.5v1.5h-1.5zM248.7 83.0h1.5v1.5h-1.5zM247.2 71.8h1.5v1.5h-1.5zM249.9 82.3h1.5v1.5h-1.5zM248.8 75.9h1.5v1.5h-1.5zM247.7 82.3h1.5v1.5h-1.5zM243.7 69.1h1.5v1.5h-1.5zM247.8 80.7h1.5v1.5h-1.5zM246.4 82.7h1.5v1.5h-1.5zM243.6 77.9h1.5v1.5h-1.5zM244.9 81.2h1.5v1.5h-1.5zM253.6 77.0h1.5v1.5h-1.5zM255.8 85.9h1.5v1.5h-1.5zM249.9 81.2h1.5v1.5h-1.5zM254.4 77.4h1.5v1.5h-1.5zM245.8 73.0h1.5v1.5h-1.5zM248.5 85.0h1.5v1.5h-1.5zM248.7 80.4h1.5v1.5h-1.5zM245.4 79.1h1.5v1.5h-1.5zM239.7 83.5h1.5v1.5h-1.5zM244.4 72.8h1.5v1.5h-1.5zM242.8 74.2h1.5v1.5h-1.5zM250.2 83.6h1.5v1.5h-1.5zM240.1 82.9h1.5v1.5h-1.5zM250.4 75.4h1.5v1.5h-1.5zM239.5 74.6h1.5v1.5h-1.5zM243.4 80.0h1.5v1.5h-1.5zM244.7 68.2h1.5v1.5h-1.5zM247.4 70.6h1.5v1.5h-1.5zM250.5 72.3h1.5v1.5h-1.5zM243.1 74.0h1.5v1.5h-1.5zM243.8 84.8h1.5v1.5h-1.5zM250.2 81.3h1.5v1.5h-1.5zM247.8 70.6h1.5v1.5h-1.5zM243.9 75.5h1.5v1.5h-1.5zM241.8 80.8h1.5v1.5h-1.5zM242.1 78.0h1.5v1.5h-1.5zM240.0 67.9h1.5v1.5h-1.5zM251.5 93.3h1.5v1.5h-1.5zM248.5 76.0h1.5v1.5h-1.5zM228.4 84.6h1.5v1.5h-1.5zM255.8 85.5h1.5v1.5h-1.5zM253.8 94.4h1.5v1.5h-1.5zM255.2 80.0h1.5v1.5h-1.5zM254.7 89.1h1.5v1.5h-1.5zM236.5 80.3h1.5v1.5h-1.5zM237.3 82.5h1.5v1.5h-1.5zM251.3 75.3h1.5v1.5h-1.5zM232.9 93.0h1.5v1.5h-1.5zM249.9 94.3h1.5v1.5h-1.5zM238.0 91.3h1.5v1.5h-1.5zM245.8 85.3h1.5v1.5h-1.5zM246.2 90.8h1.5v1.5h-1.5zM254.6 84.0h1.5v1.5h-1.5zM237.8 88.9h1.5v1.5h-1.5zM244.0 88.0h1.5v1.5h-1.5zM249.1 95.5h1.5v1.5h-1.5zM255.3 79.9h1.5v1.5h-1.5zM249.7 96.5h1.5v1.5h-1.5zM243.5 86.6h1.5v1.5h-1.5zM255.6 92.7h1.5v1.5h-1.5zM250.9 73.4h1.5v1.5h-1.5zM238.5 85.2h1.5v1.5h-1.5zM250.0 102.4h1.5v1.5h-1.5zM241.3 91.8h1.5v1.5h-1.5zM252.7 70.8h1.5v1.5h-1.5zM241.6 84.5h1.5v1.5h-1.5zM243.8 82.1h1.5v1.5h-1.5zM250.6 77.2h1.5v1.5h-1.5zM250.6 78.5h1.5v1.5h-1.5zM243.5 87.3h1.5v1.5h-1.5zM243.3 85.5h1.5v1.5h-1.5zM258.5 83.5h1.5v1.5h-1.5zM246.3 88.8h1.5v1.5h-1.5zM244.7 91.4h1.5v1.5h-1.5zM238.3 87.9h1.5v1.5h-1.5zM243.7 77.3h1.5v1.5h-1.5zM259.7 76.9h1.5v1.5h-1.5zM259.6 88.2h1.5v1.5h-1.5zM257.5 76.0h1.5v1.5h-1.5zM255.7 94.2h1.5v1.5h-1.5zM246.5 82.3h1.5v1.5h-1.5zM244.3 78.6h1.5v1.5h-1.5zM250.4 85.8h1.5v1.5h-1.5zM248.5 96.2h1.5v1.5h-1.5zM245.0 86.8h1.5v1.5h-1.5zM257.5 75.8h1.5v1.5h-1.5zM254.6 97.0h1.5v1.5h-1.5zM237.8 75.1h1.5v1.5h-1.5zM240.0 69.5h1.5v1.5h-1.5zM250.5 69.4h1.5v1.5h-1.5zM250.8 94.2h1.5v1.5h-1.5zM236.0 80.9h1.5v1.5h-1.5zM233.9 89.1h1.5v1.5h-1.5zM242.1 81.3h1.5v1.5h-1.5zM247.7 87.4h1.5v1.5h-1.5zM244.9 83.4h1.5v1.5h-1.5zM243.5 84.2h1.5v1.5h-1.5zM239.1 83.8h1.5v1.5h-1.5zM233.8 79.6h1.5v1.5h-1.5zM260.7 83.9h1.5v1.5h-1.5zM238.5 85.2h1.5v1.5h-1.5zM240.5 70.9h1.5v1.5h-1.5zM242.1 88.8h1.5v1.5h-1.5zM250.0 82.6h1.5v1.5h-1.5zM240.8 75.2h1.5v1.5h-1.5zM256.7 85.1h1.5v1.5h-1.5zM240.6 67.5h1.5v1.5h-1.5zM237.7 101.9h1.5v1.5h-1.5zM239.3 82.7h1.5v1.5h-1.5zM248.8 82.1h1.5v1.5h-1.5zM245.4 73.0h1.5v1.5h-1.5zM239.9 96.0h1.5v1.5h-1.5zM242.0 89.6h1.5v1.5h-1.5zM235.4 81.2h1.5v1.5h-1.5zM249.1 91.1h1.5v1.5h-1.5zM239.4 87.8h1.5v1.5h-1.5zM250.0 77.8h1.5v1.5h-1.5zM250.6 76.6h1.5v1.5h-1.5zM241.7 83.2h1.5v1.5h-1.5zM228.3 82.5h1.5v1.5h-1.5zM240.3 72.3h1.5v1.5h-1.5zM244.3 89.0h1.5v1.5h-1.5zM244.5 92.8h1.5v1.5h-1.5zM239.2 73.5h1.5v1.5h-1.5zM258.2 86.3h1.5v1.5h-1.5zM253.9 77.1h1.5v1.5h-1.5zM252.9 85.2h1.5v1.5h-1.5zM251.8 83.5h1.5v1.5h-1.5zM255.7 78.4h1.5v1.5h-1.5zM240.6 72.2h1.5v1.5h-1.5zM255.4 77.8h1.5v1.5h-1.5zM240.0 76.3h1.5v1.5h-1.5zM244.2 73.8h1.5v1.5h-1.5zM245.3 78.6h1.5v1.5h-1.5zM243.4 76.1h1.5v1.5h-1.5zM247.6 79.8h1.5v1.5h-1.5zM248.1 85.2h1.5v1.5h-1.5zM249.7 66.9h1.5v1.5h-1.5zM243.6 77.3h1.5v1.5h-1.5zM252.7 71.5h1.5v1.5h-1.5zM242.3 81.1h1.5v1.5h-1.5zM244.9 90.7h1.5v1.5h-1.5zM244.2 90.5h1.5v1.5h-1.5zM237.0 69.7h1.5v1.5h-1.5zM255.8 86.6h1.5v1.5h-1.5zM250.7 84.2h1.5v1.5h-1.5zM250.7 74.2h1.5v1.5h-1.5zM253.9 79.3h1.5v1.5h-1.5zM254.2 84.0h1.5v1.5h-1.5zM233.5 73.6h1.5v1.5h-1.5zM255.2 82.3h1.5v1.5h-1.5zM244.5 85.1h1.5v1.5h-1.5zM244.3 79.2h1.5v1.5h-1.5zM248.0 84.4h1.5v1.5h-1.5zM257.9 83.6h1.5v1.5h-1.5zM260.5 96.8h1.5v1.5h-1.5zM259.3 91.3h1.5v1.5h-1.5zM248.2 84.3h1.5v1.5h-1.5zM246.3 77.8h1.5v1.5h-1.5zM246.8 78.5h1.5v1.5h-1.5zM258.8 87.3h1.5v1.5h-1.5zM244.2 68.9h1.5v1.5h-1.5zM246.9 80.2h1.5v1.5h-1.5zM239.7 74.8h1.5v1.5h-1.5zM231.5 87.6h1.5v1.5h-1.5zM250.1 98.3h1.5v1.5h-1.5zM259.0 100.2h1.5v1.5h-1.5zM251.3 96.7h1.5v1.5h-1.5zM246.7 109.8h1.5v1.5h-1.5zM256.3 111.3h1.5v1.5h-1.5zM248.2 99.5h1.5v1.5h-1.5zM245.0 106.1h1.5v1.5h-1.5zM241.9 103.3h1.5v1.5h-1.5zM256.9 109.2h1.5v1.5h-1.5zM244.7 106.9h1.5v1.5h-1.5zM246.0 94.0h1.5v1.5h-1.5zM242.4 107.4h1.5v1.5h-1.5zM260.2 95.1h1.5v1.5h-1.5zM245.7 96.9h1.5v1.5h-1.5zM246.3 107.6h1.5v1.5h-1.5zM246.2 95.7h1.5v1.5h-1.5zM239.0 105.7h1.5v1.5h-1.5zM243.8 106.7h1.5v1.5h-1.5zM240.1 90.4h1.5v1.5h-1.5zM252.0 94.0h1.5v1.5h-1.5zM255.0 99.4h1.5v1.5h-1.5zM243.3 103.7h1.5v1.5h-1.5zM261.3 102.8h1.5v1.5h-1.5zM246.0 96.9h1.5v1.5h-1.5zM256.8 89.1h1.5v1.5h-1.5zM248.9 101.7h1.5v1.5h-1.5zM240.2 95.2h1.5v1.5h-1.5zM253.4 110.4h1.5v1.5h-1.5zM254.3 97.2h1.5v1.5h-1.5zM243.2 92.7h1.5v1.5h-1.5zM246.3 100.3h1.5v1.5h-1.5zM250.0 111.0h1.5v1.5h-1.5zM252.0 91.8h1.5v1.5h-1.5zM259.6 105.9h1.5v1.5h-1.5zM250.9 94.3h1.5v1.5h-1.5zM239.1 92.1h1.5v1.5h-1.5zM255.8 93.7h1.5v1.5h-1.5zM242.4 100.7h1.5v1.5h-1.5zM251.8 103.5h1.5v1.5h-1.5zM254.2 109.2h1.5v1.5h-1.5zM245.3 106.2h1.5v1.5h-1.5zM244.4 104.2h1.5v1.5h-1.5zM251.4 101.0h1.5v1.5h-1.5zM256.1 99.2h1.5v1.5h-1.5zM257.0 105.4h1.5v1.5h-1.5zM251.1 95.3h1.5v1.5h-1.5zM245.8 95.6h1.5v1.5h-1.5zM249.1 99.1h1.5v1.5h-1.5zM254.9 93.3h1.5v1.5h-1.5zM246.0 97.1h1.5v1.5h-1.5zM251.5 92.0h1.5v1.5h-1.5zM260.0 95.4h1.5v1.5h-1.5zM250.3 101.2h1.5v1.5h-1.5zM251.4 103.5h1.5v1.5h-1.5zM252.0 100.4h1.5v1.5h-1.5zM238.9 94.3h1.5v1.5h-1.5zM236.2 103.7h1.5v1.5h-1.5zM252.1 97.9h1.5v1.5h-1.5zM245.4 95.2h1.5v1.5h-1.5zM250.0 108.3h1.5v1.5h-1.5zM247.4 93.2h1.5v1.5h-1.5zM246.9 100.6h1.5v1.5h-1.5zM250.6 101.2h1.5v1.5h-1.5zM250.1 105.8h1.5v1.5h-1.5zM261.0 90.6h1.5v1.5h-1.5zM251.3 97.4h1.5v1.5h-1.5zM252.4 88.6h1.5v1.5h-1.5zM253.5 100.6h1.5v1.5h-1.5zM248.1 94.0h1.5v1.5h-1.5zM241.8 92.9h1.5v1.5h-1.5zM264.7 77.1h1.5v1.5h-1.5zM266.2 80.8h1.5v1.5h-1.5zM277.0 81.2h1.5v1.5h-1.5zM275.5 83.5h1.5v1.5h-1.5zM273.9 84.8h1.5v1.5h-1.5zM270.8 91.2h1.5v1.5h-1.5zM273.9 91.2h1.5v1.5h-1.5zM270.1 98.1h1.5v1.5h-1.5zM268.5 100.1h1.5v1.5h-1.5zM263.9 102.0h1.5v1.5h-1.5zM265.5 107.4h1.5v1.5h-1.5zM270.8 108.1h1.5v1.5h-1.5zM270.8 110.5h1.5v1.5h-1.5zM274.7 114.0h1.5v1.5h-1.5zM273.1 115.5h1.5v1.5h-1.5zM270.8 116.3h1.5v1.5h-1.5zM267.8 125.4h1.5v1.5h-1.5zM272.4 124.3h1.5v1.5h-1.5zM270.1 129.4h1.5v1.5h-1.5zM273.5 130.0h1.5v1.5h-1.5zM269.3 131.5h1.5v1.5h-1.5zM247.8 123.8h1.5v1.5h-1.5zM253.5 122.8h1.5v1.5h-1.5zM244.4 129.4h1.5v1.5h-1.5zM256.7 134.3h1.5v1.5h-1.5zM251.9 138.6h1.5v1.5h-1.5zM242.7 143.2h1.5v1.5h-1.5zM250.5 142.3h1.5v1.5h-1.5zM247.5 146.3h1.5v1.5h-1.5zM258.1 147.4h1.5v1.5h-1.5zM226.2 80.8h1.5v1.5h-1.5zM226.2 82.3h1.5v1.5h-1.5zM227.0 85.1h1.5v1.5h-1.5zM229.3 117.4h1.5v1.5h-1.5zM232.4 111.2h1.5v1.5h-1.5zM236.2 105.8h1.5v1.5h-1.5z" fill="#111"/>
<text class="b" x="230" y="52.5" font-size="12.2">(46.5)</text>
<path d="M377.2 149.80H382.7M379.1 141.16H382.7M379.1 136.11H382.7M379.1 132.52H382.7M379.1 129.74H382.7M379.1 127.47H382.7M379.1 125.55H382.7M379.1 123.88H382.7M379.1 122.41H382.7M377.2 121.10H382.7M379.1 112.46H382.7M379.1 107.41H382.7M379.1 103.82H382.7M379.1 101.04H382.7M379.1 98.77H382.7M379.1 96.85H382.7M379.1 95.18H382.7M379.1 93.71H382.7M377.2 92.40H382.7M379.1 83.76H382.7M379.1 78.71H382.7M379.1 75.12H382.7M379.1 72.34H382.7M379.1 70.07H382.7M379.1 68.15H382.7M379.1 66.48H382.7M379.1 65.01H382.7M377.2 63.70H382.7M379.1 55.06H382.7M379.1 50.01H382.7M379.1 46.42H382.7M379.1 43.64H382.7M379.1 41.37H382.7M379.1 39.45H382.7M379.1 37.78H382.7M379.1 36.31H382.7M377.2 35.00H382.7" stroke="#111" stroke-width="1.45" fill="none"/>
<path d="M382.70 150.1V153.6M392.54 150.1V152.3M398.29 150.1V152.3M402.37 150.1V152.3M405.54 150.1V152.3M408.13 150.1V152.3M410.31 150.1V152.3M412.21 150.1V152.3M413.88 150.1V152.3M415.38 150.1V153.6M425.21 150.1V152.3M430.96 150.1V152.3M435.05 150.1V152.3M438.21 150.1V152.3M440.80 150.1V152.3M442.99 150.1V152.3M444.88 150.1V152.3M446.55 150.1V152.3M448.05 150.1V153.6M457.89 150.1V152.3M463.64 150.1V152.3M467.72 150.1V152.3M470.89 150.1V152.3M473.48 150.1V152.3M475.66 150.1V152.3M477.56 150.1V152.3M479.23 150.1V152.3M480.72 150.1V153.6M490.56 150.1V152.3M496.31 150.1V152.3M500.40 150.1V152.3M503.56 150.1V152.3M506.15 150.1V152.3M508.34 150.1V152.3M510.23 150.1V152.3M511.90 150.1V152.3M513.40 150.1V153.6" stroke="#111" stroke-width="1.3" fill="none"/>
<rect x="382.7" y="35" width="130.7" height="114.8" fill="#fff"/>
<path d="M513.4 35V149.8" stroke="#333" stroke-width="1" fill="none"/>
<path d="M382.7 150.4V35H513.9" stroke="#111" stroke-width="1.35" fill="none"/>
<path d="M419.7 35V150.3M382.7 119.3H513.4" stroke="#111" stroke-width="1.35" fill="none"/>
<path d="M405.7 76.5h1.5v1.5h-1.5zM402.2 76.4h1.5v1.5h-1.5zM399.3 74.2h1.5v1.5h-1.5zM402.5 76.6h1.5v1.5h-1.5zM402.0 73.2h1.5v1.5h-1.5zM401.6 70.8h1.5v1.5h-1.5zM413.2 76.4h1.5v1.5h-1.5zM404.4 84.9h1.5v1.5h-1.5zM409.2 66.4h1.5v1.5h-1.5zM405.7 77.9h1.5v1.5h-1.5zM411.5 80.2h1.5v1.5h-1.5zM406.1 68.2h1.5v1.5h-1.5zM398.0 75.2h1.5v1.5h-1.5zM404.8 69.0h1.5v1.5h-1.5zM400.4 72.0h1.5v1.5h-1.5zM402.6 75.5h1.5v1.5h-1.5zM400.9 68.0h1.5v1.5h-1.5zM408.4 81.6h1.5v1.5h-1.5zM401.8 78.8h1.5v1.5h-1.5zM404.5 77.1h1.5v1.5h-1.5zM404.7 70.2h1.5v1.5h-1.5zM405.1 78.8h1.5v1.5h-1.5zM397.9 83.3h1.5v1.5h-1.5zM412.5 82.7h1.5v1.5h-1.5zM412.0 77.5h1.5v1.5h-1.5zM400.6 71.0h1.5v1.5h-1.5zM398.3 74.5h1.5v1.5h-1.5zM402.1 77.1h1.5v1.5h-1.5zM392.4 85.0h1.5v1.5h-1.5zM413.5 73.8h1.5v1.5h-1.5zM405.6 76.2h1.5v1.5h-1.5zM403.6 72.9h1.5v1.5h-1.5zM401.7 69.9h1.5v1.5h-1.5zM403.2 73.8h1.5v1.5h-1.5zM403.9 69.8h1.5v1.5h-1.5zM402.5 74.1h1.5v1.5h-1.5zM405.3 68.8h1.5v1.5h-1.5zM404.4 78.6h1.5v1.5h-1.5zM405.2 72.1h1.5v1.5h-1.5zM399.9 72.8h1.5v1.5h-1.5zM405.9 81.4h1.5v1.5h-1.5zM401.5 70.8h1.5v1.5h-1.5zM404.1 74.9h1.5v1.5h-1.5zM397.9 70.4h1.5v1.5h-1.5zM401.8 77.1h1.5v1.5h-1.5zM396.5 69.0h1.5v1.5h-1.5zM404.7 68.0h1.5v1.5h-1.5zM402.8 75.6h1.5v1.5h-1.5zM401.8 69.0h1.5v1.5h-1.5zM402.0 72.3h1.5v1.5h-1.5zM403.9 69.9h1.5v1.5h-1.5zM407.6 65.9h1.5v1.5h-1.5zM401.4 73.9h1.5v1.5h-1.5zM407.0 71.0h1.5v1.5h-1.5zM405.0 71.2h1.5v1.5h-1.5zM405.9 82.2h1.5v1.5h-1.5zM400.3 76.0h1.5v1.5h-1.5zM397.8 78.6h1.5v1.5h-1.5zM408.2 74.1h1.5v1.5h-1.5zM396.7 75.8h1.5v1.5h-1.5zM407.9 79.1h1.5v1.5h-1.5zM406.3 65.1h1.5v1.5h-1.5zM399.0 80.7h1.5v1.5h-1.5zM396.3 79.3h1.5v1.5h-1.5zM411.5 77.6h1.5v1.5h-1.5zM407.8 72.3h1.5v1.5h-1.5zM396.3 73.4h1.5v1.5h-1.5zM401.3 73.7h1.5v1.5h-1.5zM405.7 73.2h1.5v1.5h-1.5zM403.2 75.9h1.5v1.5h-1.5zM402.3 82.7h1.5v1.5h-1.5zM404.5 74.3h1.5v1.5h-1.5zM401.3 70.9h1.5v1.5h-1.5zM408.9 74.6h1.5v1.5h-1.5zM397.0 71.2h1.5v1.5h-1.5zM401.6 71.8h1.5v1.5h-1.5zM407.6 68.3h1.5v1.5h-1.5zM404.7 74.6h1.5v1.5h-1.5zM396.5 74.1h1.5v1.5h-1.5zM401.8 76.3h1.5v1.5h-1.5zM400.1 75.4h1.5v1.5h-1.5zM394.1 68.7h1.5v1.5h-1.5zM406.1 78.9h1.5v1.5h-1.5zM402.2 71.0h1.5v1.5h-1.5zM407.6 63.9h1.5v1.5h-1.5zM398.4 77.1h1.5v1.5h-1.5zM405.5 68.9h1.5v1.5h-1.5zM393.1 80.9h1.5v1.5h-1.5zM403.0 69.6h1.5v1.5h-1.5zM402.6 78.2h1.5v1.5h-1.5zM389.6 79.2h1.5v1.5h-1.5zM405.9 63.9h1.5v1.5h-1.5zM406.1 65.4h1.5v1.5h-1.5zM407.9 75.8h1.5v1.5h-1.5zM413.3 71.0h1.5v1.5h-1.5zM402.3 78.9h1.5v1.5h-1.5zM399.2 70.5h1.5v1.5h-1.5zM400.5 73.6h1.5v1.5h-1.5zM397.0 76.2h1.5v1.5h-1.5zM405.0 74.2h1.5v1.5h-1.5zM410.6 72.3h1.5v1.5h-1.5zM408.7 71.3h1.5v1.5h-1.5zM406.0 64.6h1.5v1.5h-1.5zM403.3 73.1h1.5v1.5h-1.5zM399.9 71.0h1.5v1.5h-1.5zM400.6 70.4h1.5v1.5h-1.5zM391.6 71.0h1.5v1.5h-1.5zM399.6 71.4h1.5v1.5h-1.5zM397.1 73.2h1.5v1.5h-1.5zM406.1 72.7h1.5v1.5h-1.5zM399.9 80.4h1.5v1.5h-1.5zM407.1 78.3h1.5v1.5h-1.5zM408.0 72.3h1.5v1.5h-1.5zM401.7 79.2h1.5v1.5h-1.5zM399.6 73.3h1.5v1.5h-1.5zM404.2 75.7h1.5v1.5h-1.5zM400.9 78.6h1.5v1.5h-1.5zM401.4 77.4h1.5v1.5h-1.5zM407.5 77.1h1.5v1.5h-1.5zM405.9 68.3h1.5v1.5h-1.5zM395.9 70.9h1.5v1.5h-1.5zM404.6 81.1h1.5v1.5h-1.5zM396.3 75.4h1.5v1.5h-1.5zM398.1 70.4h1.5v1.5h-1.5zM400.9 77.2h1.5v1.5h-1.5zM403.3 79.6h1.5v1.5h-1.5zM397.5 78.2h1.5v1.5h-1.5zM406.9 74.2h1.5v1.5h-1.5zM404.6 71.2h1.5v1.5h-1.5zM397.0 72.0h1.5v1.5h-1.5zM399.2 87.8h1.5v1.5h-1.5zM399.9 81.8h1.5v1.5h-1.5zM403.3 75.4h1.5v1.5h-1.5zM405.9 70.2h1.5v1.5h-1.5zM406.8 75.7h1.5v1.5h-1.5zM394.9 76.8h1.5v1.5h-1.5zM405.0 76.1h1.5v1.5h-1.5zM410.1 71.9h1.5v1.5h-1.5zM404.8 77.5h1.5v1.5h-1.5zM397.9 79.7h1.5v1.5h-1.5zM395.2 67.7h1.5v1.5h-1.5zM404.9 68.7h1.5v1.5h-1.5zM401.7 66.0h1.5v1.5h-1.5zM402.6 68.5h1.5v1.5h-1.5zM404.0 66.5h1.5v1.5h-1.5zM404.5 72.6h1.5v1.5h-1.5zM402.6 73.6h1.5v1.5h-1.5zM402.9 67.6h1.5v1.5h-1.5zM389.7 74.1h1.5v1.5h-1.5zM397.7 71.7h1.5v1.5h-1.5zM404.4 64.4h1.5v1.5h-1.5zM398.6 71.0h1.5v1.5h-1.5zM397.1 75.5h1.5v1.5h-1.5zM401.6 70.0h1.5v1.5h-1.5zM397.5 77.8h1.5v1.5h-1.5zM399.1 76.7h1.5v1.5h-1.5zM404.5 64.8h1.5v1.5h-1.5zM397.0 73.9h1.5v1.5h-1.5zM404.0 77.6h1.5v1.5h-1.5zM406.2 78.9h1.5v1.5h-1.5zM400.5 72.9h1.5v1.5h-1.5zM406.1 71.9h1.5v1.5h-1.5zM407.5 66.3h1.5v1.5h-1.5zM405.5 73.1h1.5v1.5h-1.5zM392.7 78.6h1.5v1.5h-1.5zM403.8 74.0h1.5v1.5h-1.5zM397.0 71.7h1.5v1.5h-1.5zM409.7 69.9h1.5v1.5h-1.5zM385.3 69.8h1.5v1.5h-1.5zM396.4 73.3h1.5v1.5h-1.5zM400.4 69.5h1.5v1.5h-1.5zM398.2 78.9h1.5v1.5h-1.5zM395.2 83.3h1.5v1.5h-1.5zM399.6 68.7h1.5v1.5h-1.5zM406.2 76.6h1.5v1.5h-1.5zM397.2 77.5h1.5v1.5h-1.5zM393.3 69.5h1.5v1.5h-1.5zM407.8 72.7h1.5v1.5h-1.5zM395.9 76.4h1.5v1.5h-1.5zM406.8 73.8h1.5v1.5h-1.5zM393.4 72.2h1.5v1.5h-1.5zM404.3 77.6h1.5v1.5h-1.5zM411.4 72.7h1.5v1.5h-1.5zM399.9 73.7h1.5v1.5h-1.5zM408.2 69.4h1.5v1.5h-1.5zM408.7 60.7h1.5v1.5h-1.5zM406.2 70.7h1.5v1.5h-1.5zM404.5 77.2h1.5v1.5h-1.5zM396.5 73.5h1.5v1.5h-1.5zM403.5 76.7h1.5v1.5h-1.5zM397.7 69.1h1.5v1.5h-1.5zM392.9 86.1h1.5v1.5h-1.5zM401.4 72.8h1.5v1.5h-1.5zM395.0 78.4h1.5v1.5h-1.5zM399.7 80.8h1.5v1.5h-1.5zM406.5 74.0h1.5v1.5h-1.5zM405.9 68.6h1.5v1.5h-1.5zM400.7 71.1h1.5v1.5h-1.5zM396.1 74.0h1.5v1.5h-1.5zM401.6 80.8h1.5v1.5h-1.5zM385.9 70.7h1.5v1.5h-1.5zM397.8 71.7h1.5v1.5h-1.5zM404.4 75.8h1.5v1.5h-1.5zM402.4 71.6h1.5v1.5h-1.5zM404.7 75.6h1.5v1.5h-1.5zM393.3 72.6h1.5v1.5h-1.5zM395.6 68.2h1.5v1.5h-1.5zM403.0 74.2h1.5v1.5h-1.5zM402.9 69.7h1.5v1.5h-1.5zM401.3 69.5h1.5v1.5h-1.5zM404.2 77.2h1.5v1.5h-1.5zM410.9 80.0h1.5v1.5h-1.5zM398.4 71.7h1.5v1.5h-1.5zM397.7 75.4h1.5v1.5h-1.5zM412.0 77.3h1.5v1.5h-1.5zM391.5 67.9h1.5v1.5h-1.5zM396.0 76.4h1.5v1.5h-1.5zM402.3 75.3h1.5v1.5h-1.5zM411.0 69.9h1.5v1.5h-1.5zM398.1 83.3h1.5v1.5h-1.5zM404.0 70.2h1.5v1.5h-1.5zM392.4 66.6h1.5v1.5h-1.5zM390.3 74.2h1.5v1.5h-1.5zM402.5 78.7h1.5v1.5h-1.5zM401.6 70.6h1.5v1.5h-1.5zM398.7 83.0h1.5v1.5h-1.5zM393.6 74.7h1.5v1.5h-1.5zM402.4 76.9h1.5v1.5h-1.5zM400.3 76.3h1.5v1.5h-1.5zM406.3 73.2h1.5v1.5h-1.5zM400.1 73.0h1.5v1.5h-1.5zM397.6 72.9h1.5v1.5h-1.5zM400.8 74.9h1.5v1.5h-1.5zM408.8 80.2h1.5v1.5h-1.5zM400.1 76.8h1.5v1.5h-1.5zM403.7 77.6h1.5v1.5h-1.5zM402.4 75.2h1.5v1.5h-1.5zM400.0 70.1h1.5v1.5h-1.5zM406.6 80.1h1.5v1.5h-1.5zM405.5 76.0h1.5v1.5h-1.5zM403.6 71.7h1.5v1.5h-1.5zM393.6 77.1h1.5v1.5h-1.5zM403.3 71.2h1.5v1.5h-1.5zM397.6 80.0h1.5v1.5h-1.5zM393.5 82.4h1.5v1.5h-1.5zM405.4 85.3h1.5v1.5h-1.5zM398.8 73.8h1.5v1.5h-1.5zM399.8 74.6h1.5v1.5h-1.5zM401.3 70.3h1.5v1.5h-1.5zM407.6 70.1h1.5v1.5h-1.5zM399.8 76.6h1.5v1.5h-1.5zM399.7 71.8h1.5v1.5h-1.5zM404.0 72.1h1.5v1.5h-1.5zM396.2 73.4h1.5v1.5h-1.5zM401.2 82.1h1.5v1.5h-1.5zM396.9 78.6h1.5v1.5h-1.5zM398.4 72.2h1.5v1.5h-1.5zM400.7 75.2h1.5v1.5h-1.5zM406.5 82.3h1.5v1.5h-1.5zM399.2 80.3h1.5v1.5h-1.5zM407.2 77.8h1.5v1.5h-1.5zM398.6 78.2h1.5v1.5h-1.5zM401.8 75.6h1.5v1.5h-1.5zM401.0 77.1h1.5v1.5h-1.5zM407.8 79.3h1.5v1.5h-1.5zM401.3 78.7h1.5v1.5h-1.5zM409.4 69.4h1.5v1.5h-1.5zM409.5 67.5h1.5v1.5h-1.5zM405.0 76.8h1.5v1.5h-1.5zM409.6 75.2h1.5v1.5h-1.5zM399.9 70.1h1.5v1.5h-1.5zM396.2 77.6h1.5v1.5h-1.5zM401.1 70.5h1.5v1.5h-1.5zM404.9 70.2h1.5v1.5h-1.5zM400.2 71.7h1.5v1.5h-1.5zM410.4 80.9h1.5v1.5h-1.5zM401.5 66.4h1.5v1.5h-1.5zM403.7 74.2h1.5v1.5h-1.5zM404.0 76.6h1.5v1.5h-1.5zM400.7 78.3h1.5v1.5h-1.5zM406.4 74.9h1.5v1.5h-1.5zM400.3 71.6h1.5v1.5h-1.5zM405.7 68.6h1.5v1.5h-1.5zM401.5 70.3h1.5v1.5h-1.5zM395.5 76.8h1.5v1.5h-1.5zM402.2 74.1h1.5v1.5h-1.5zM406.6 66.7h1.5v1.5h-1.5zM402.0 75.3h1.5v1.5h-1.5zM406.4 68.7h1.5v1.5h-1.5zM405.8 75.0h1.5v1.5h-1.5zM408.9 79.4h1.5v1.5h-1.5zM405.0 84.2h1.5v1.5h-1.5zM402.3 71.9h1.5v1.5h-1.5zM400.6 69.4h1.5v1.5h-1.5zM402.2 64.9h1.5v1.5h-1.5zM401.9 75.9h1.5v1.5h-1.5zM407.2 72.2h1.5v1.5h-1.5zM409.1 70.8h1.5v1.5h-1.5zM401.6 64.9h1.5v1.5h-1.5zM398.6 70.1h1.5v1.5h-1.5zM409.4 76.4h1.5v1.5h-1.5zM397.0 76.4h1.5v1.5h-1.5zM404.6 72.8h1.5v1.5h-1.5zM402.4 72.5h1.5v1.5h-1.5zM399.7 65.6h1.5v1.5h-1.5zM401.9 79.9h1.5v1.5h-1.5zM409.2 72.6h1.5v1.5h-1.5zM398.7 72.9h1.5v1.5h-1.5zM406.6 75.5h1.5v1.5h-1.5zM399.5 75.6h1.5v1.5h-1.5zM401.3 76.3h1.5v1.5h-1.5zM400.4 67.0h1.5v1.5h-1.5zM402.6 77.5h1.5v1.5h-1.5zM397.0 73.4h1.5v1.5h-1.5zM406.5 72.1h1.5v1.5h-1.5zM399.2 83.4h1.5v1.5h-1.5zM406.3 78.7h1.5v1.5h-1.5zM397.8 81.5h1.5v1.5h-1.5zM394.4 71.5h1.5v1.5h-1.5zM405.8 80.1h1.5v1.5h-1.5zM397.9 70.8h1.5v1.5h-1.5zM403.2 64.9h1.5v1.5h-1.5zM405.3 76.5h1.5v1.5h-1.5zM400.2 76.4h1.5v1.5h-1.5zM406.0 75.3h1.5v1.5h-1.5zM404.8 81.0h1.5v1.5h-1.5zM400.0 74.7h1.5v1.5h-1.5zM399.8 78.7h1.5v1.5h-1.5zM400.4 76.1h1.5v1.5h-1.5zM403.0 74.2h1.5v1.5h-1.5zM410.5 73.5h1.5v1.5h-1.5zM409.0 77.7h1.5v1.5h-1.5zM408.6 73.1h1.5v1.5h-1.5zM406.7 77.4h1.5v1.5h-1.5zM399.4 75.2h1.5v1.5h-1.5zM401.7 73.7h1.5v1.5h-1.5zM408.5 70.6h1.5v1.5h-1.5zM394.3 65.8h1.5v1.5h-1.5zM400.2 70.9h1.5v1.5h-1.5zM402.4 76.5h1.5v1.5h-1.5zM410.6 75.3h1.5v1.5h-1.5zM404.5 70.5h1.5v1.5h-1.5zM405.0 80.2h1.5v1.5h-1.5zM408.6 64.9h1.5v1.5h-1.5zM406.5 81.2h1.5v1.5h-1.5zM406.2 67.0h1.5v1.5h-1.5zM400.8 76.6h1.5v1.5h-1.5zM404.3 70.1h1.5v1.5h-1.5zM398.1 78.4h1.5v1.5h-1.5zM396.0 80.5h1.5v1.5h-1.5zM402.4 75.3h1.5v1.5h-1.5zM396.0 71.1h1.5v1.5h-1.5zM405.6 67.1h1.5v1.5h-1.5zM412.1 67.4h1.5v1.5h-1.5zM396.5 74.1h1.5v1.5h-1.5zM404.6 77.3h1.5v1.5h-1.5zM400.6 72.9h1.5v1.5h-1.5zM401.2 71.2h1.5v1.5h-1.5zM390.2 78.3h1.5v1.5h-1.5zM403.5 74.6h1.5v1.5h-1.5zM399.3 75.1h1.5v1.5h-1.5zM402.2 73.5h1.5v1.5h-1.5zM407.5 66.0h1.5v1.5h-1.5zM403.5 69.0h1.5v1.5h-1.5zM400.8 80.8h1.5v1.5h-1.5zM397.2 73.4h1.5v1.5h-1.5zM399.5 78.3h1.5v1.5h-1.5zM397.7 66.1h1.5v1.5h-1.5zM404.7 72.3h1.5v1.5h-1.5zM400.8 78.9h1.5v1.5h-1.5zM398.1 72.2h1.5v1.5h-1.5zM403.0 75.8h1.5v1.5h-1.5zM399.9 78.7h1.5v1.5h-1.5zM412.8 72.0h1.5v1.5h-1.5zM411.1 64.2h1.5v1.5h-1.5zM408.9 72.3h1.5v1.5h-1.5zM402.9 72.3h1.5v1.5h-1.5zM399.3 68.0h1.5v1.5h-1.5zM400.4 79.9h1.5v1.5h-1.5zM407.7 72.3h1.5v1.5h-1.5zM399.8 70.7h1.5v1.5h-1.5zM396.7 82.2h1.5v1.5h-1.5zM405.4 74.4h1.5v1.5h-1.5zM400.0 69.2h1.5v1.5h-1.5zM408.5 77.5h1.5v1.5h-1.5zM397.8 78.5h1.5v1.5h-1.5zM397.1 76.9h1.5v1.5h-1.5zM397.8 72.0h1.5v1.5h-1.5zM404.6 75.9h1.5v1.5h-1.5zM407.1 70.0h1.5v1.5h-1.5zM409.7 80.1h1.5v1.5h-1.5zM402.3 76.0h1.5v1.5h-1.5zM398.6 73.2h1.5v1.5h-1.5zM396.1 74.3h1.5v1.5h-1.5zM403.2 80.1h1.5v1.5h-1.5zM406.8 77.7h1.5v1.5h-1.5zM400.6 72.9h1.5v1.5h-1.5zM400.7 74.9h1.5v1.5h-1.5zM393.2 77.5h1.5v1.5h-1.5zM394.9 71.5h1.5v1.5h-1.5zM402.4 71.5h1.5v1.5h-1.5zM410.1 73.4h1.5v1.5h-1.5zM409.7 79.3h1.5v1.5h-1.5zM400.0 75.7h1.5v1.5h-1.5zM408.4 72.4h1.5v1.5h-1.5zM402.7 71.3h1.5v1.5h-1.5zM402.6 72.3h1.5v1.5h-1.5zM402.7 78.5h1.5v1.5h-1.5zM408.9 74.5h1.5v1.5h-1.5zM403.2 77.8h1.5v1.5h-1.5zM400.9 69.0h1.5v1.5h-1.5zM407.5 69.6h1.5v1.5h-1.5zM406.7 69.5h1.5v1.5h-1.5zM410.9 69.1h1.5v1.5h-1.5zM406.3 80.8h1.5v1.5h-1.5zM397.8 80.7h1.5v1.5h-1.5zM398.4 65.8h1.5v1.5h-1.5zM405.7 77.1h1.5v1.5h-1.5zM401.3 62.3h1.5v1.5h-1.5zM402.0 72.5h1.5v1.5h-1.5zM400.5 72.6h1.5v1.5h-1.5zM393.9 71.3h1.5v1.5h-1.5zM410.8 81.0h1.5v1.5h-1.5zM400.6 70.6h1.5v1.5h-1.5zM404.2 78.8h1.5v1.5h-1.5zM405.7 68.5h1.5v1.5h-1.5zM403.1 74.5h1.5v1.5h-1.5zM409.1 79.4h1.5v1.5h-1.5zM404.8 79.5h1.5v1.5h-1.5zM400.4 81.0h1.5v1.5h-1.5zM400.3 75.7h1.5v1.5h-1.5zM406.6 69.7h1.5v1.5h-1.5zM399.0 65.8h1.5v1.5h-1.5zM403.1 73.6h1.5v1.5h-1.5zM400.8 76.2h1.5v1.5h-1.5zM392.3 73.8h1.5v1.5h-1.5zM402.7 72.7h1.5v1.5h-1.5zM406.0 82.0h1.5v1.5h-1.5zM400.2 69.6h1.5v1.5h-1.5zM399.5 74.3h1.5v1.5h-1.5zM405.1 69.9h1.5v1.5h-1.5zM407.0 69.2h1.5v1.5h-1.5zM406.2 75.9h1.5v1.5h-1.5zM404.5 83.8h1.5v1.5h-1.5zM401.1 73.1h1.5v1.5h-1.5zM404.5 77.9h1.5v1.5h-1.5zM396.0 75.2h1.5v1.5h-1.5zM398.8 76.8h1.5v1.5h-1.5zM408.7 74.1h1.5v1.5h-1.5zM401.8 74.7h1.5v1.5h-1.5zM388.4 77.5h1.5v1.5h-1.5zM404.9 74.7h1.5v1.5h-1.5zM400.4 70.5h1.5v1.5h-1.5zM401.5 79.5h1.5v1.5h-1.5zM401.8 80.1h1.5v1.5h-1.5zM390.2 71.8h1.5v1.5h-1.5zM403.6 73.8h1.5v1.5h-1.5zM394.5 70.8h1.5v1.5h-1.5zM408.2 67.9h1.5v1.5h-1.5zM397.6 68.8h1.5v1.5h-1.5zM399.7 76.9h1.5v1.5h-1.5zM405.1 64.5h1.5v1.5h-1.5zM409.2 71.2h1.5v1.5h-1.5zM399.5 81.6h1.5v1.5h-1.5zM401.9 68.2h1.5v1.5h-1.5zM399.3 70.6h1.5v1.5h-1.5zM397.6 72.4h1.5v1.5h-1.5zM406.4 75.5h1.5v1.5h-1.5zM395.8 86.7h1.5v1.5h-1.5zM397.6 74.4h1.5v1.5h-1.5zM402.4 77.4h1.5v1.5h-1.5zM400.8 76.0h1.5v1.5h-1.5zM412.2 74.3h1.5v1.5h-1.5zM397.2 75.4h1.5v1.5h-1.5zM398.5 72.2h1.5v1.5h-1.5zM403.2 75.5h1.5v1.5h-1.5zM401.0 77.8h1.5v1.5h-1.5zM401.4 67.9h1.5v1.5h-1.5zM406.4 72.2h1.5v1.5h-1.5zM408.0 70.9h1.5v1.5h-1.5zM405.0 75.4h1.5v1.5h-1.5zM389.6 67.0h1.5v1.5h-1.5zM397.0 80.4h1.5v1.5h-1.5zM393.4 78.1h1.5v1.5h-1.5zM407.4 76.2h1.5v1.5h-1.5zM405.5 71.6h1.5v1.5h-1.5zM402.2 74.9h1.5v1.5h-1.5zM404.3 77.2h1.5v1.5h-1.5zM401.3 70.7h1.5v1.5h-1.5zM399.7 75.8h1.5v1.5h-1.5zM394.5 68.1h1.5v1.5h-1.5zM400.4 71.4h1.5v1.5h-1.5zM401.0 61.6h1.5v1.5h-1.5zM400.7 72.7h1.5v1.5h-1.5zM406.0 64.8h1.5v1.5h-1.5zM400.9 76.1h1.5v1.5h-1.5zM404.6 79.4h1.5v1.5h-1.5zM407.3 69.1h1.5v1.5h-1.5zM405.3 72.4h1.5v1.5h-1.5zM398.5 81.0h1.5v1.5h-1.5zM399.3 70.0h1.5v1.5h-1.5zM400.4 70.0h1.5v1.5h-1.5zM407.0 75.7h1.5v1.5h-1.5zM408.9 75.8h1.5v1.5h-1.5zM399.4 78.7h1.5v1.5h-1.5zM399.2 71.8h1.5v1.5h-1.5zM401.5 74.1h1.5v1.5h-1.5zM407.9 71.1h1.5v1.5h-1.5zM404.0 73.8h1.5v1.5h-1.5zM396.4 68.8h1.5v1.5h-1.5zM401.3 75.8h1.5v1.5h-1.5zM403.8 76.1h1.5v1.5h-1.5zM402.5 71.8h1.5v1.5h-1.5zM404.3 69.3h1.5v1.5h-1.5zM396.0 72.4h1.5v1.5h-1.5zM395.6 71.5h1.5v1.5h-1.5zM398.8 71.3h1.5v1.5h-1.5zM402.1 70.2h1.5v1.5h-1.5zM400.3 66.0h1.5v1.5h-1.5zM403.0 69.8h1.5v1.5h-1.5zM404.2 60.8h1.5v1.5h-1.5zM398.5 75.0h1.5v1.5h-1.5zM390.8 72.2h1.5v1.5h-1.5zM402.7 74.4h1.5v1.5h-1.5zM395.2 75.0h1.5v1.5h-1.5zM403.0 69.4h1.5v1.5h-1.5zM405.8 73.7h1.5v1.5h-1.5zM402.4 71.8h1.5v1.5h-1.5zM404.9 74.4h1.5v1.5h-1.5zM407.7 76.0h1.5v1.5h-1.5zM399.4 72.9h1.5v1.5h-1.5zM406.6 72.2h1.5v1.5h-1.5zM404.1 76.3h1.5v1.5h-1.5zM401.4 63.1h1.5v1.5h-1.5zM402.9 74.9h1.5v1.5h-1.5zM402.9 70.4h1.5v1.5h-1.5zM408.0 73.3h1.5v1.5h-1.5zM399.3 70.6h1.5v1.5h-1.5zM404.0 68.8h1.5v1.5h-1.5zM397.6 83.2h1.5v1.5h-1.5zM408.5 78.8h1.5v1.5h-1.5zM408.8 76.7h1.5v1.5h-1.5zM394.3 79.4h1.5v1.5h-1.5zM408.2 76.2h1.5v1.5h-1.5zM393.0 79.7h1.5v1.5h-1.5zM408.8 71.6h1.5v1.5h-1.5zM402.9 77.5h1.5v1.5h-1.5zM401.9 79.0h1.5v1.5h-1.5zM402.7 77.1h1.5v1.5h-1.5zM402.7 67.0h1.5v1.5h-1.5zM397.6 88.6h1.5v1.5h-1.5zM403.6 80.0h1.5v1.5h-1.5zM407.7 81.9h1.5v1.5h-1.5zM404.9 71.1h1.5v1.5h-1.5zM402.4 65.0h1.5v1.5h-1.5zM401.4 78.1h1.5v1.5h-1.5zM392.0 74.8h1.5v1.5h-1.5zM406.2 80.1h1.5v1.5h-1.5zM397.9 70.9h1.5v1.5h-1.5zM393.4 69.2h1.5v1.5h-1.5zM406.9 93.4h1.5v1.5h-1.5zM395.5 88.7h1.5v1.5h-1.5zM406.2 75.9h1.5v1.5h-1.5zM402.8 80.8h1.5v1.5h-1.5zM417.8 91.5h1.5v1.5h-1.5zM410.0 88.6h1.5v1.5h-1.5zM406.8 81.7h1.5v1.5h-1.5zM402.1 76.5h1.5v1.5h-1.5zM394.9 92.6h1.5v1.5h-1.5zM400.3 65.2h1.5v1.5h-1.5zM405.1 79.1h1.5v1.5h-1.5zM404.5 91.6h1.5v1.5h-1.5zM402.6 77.5h1.5v1.5h-1.5zM398.2 79.1h1.5v1.5h-1.5zM400.3 80.7h1.5v1.5h-1.5zM397.5 92.4h1.5v1.5h-1.5zM409.2 84.9h1.5v1.5h-1.5zM408.2 84.9h1.5v1.5h-1.5zM407.9 88.9h1.5v1.5h-1.5zM410.2 88.5h1.5v1.5h-1.5zM399.9 79.3h1.5v1.5h-1.5zM398.3 85.8h1.5v1.5h-1.5zM409.0 76.1h1.5v1.5h-1.5zM407.3 97.2h1.5v1.5h-1.5zM411.7 71.7h1.5v1.5h-1.5zM402.7 83.6h1.5v1.5h-1.5zM403.1 81.9h1.5v1.5h-1.5zM411.3 81.5h1.5v1.5h-1.5zM395.8 84.2h1.5v1.5h-1.5zM402.6 80.1h1.5v1.5h-1.5zM399.4 69.9h1.5v1.5h-1.5zM394.8 76.9h1.5v1.5h-1.5zM396.0 60.8h1.5v1.5h-1.5zM411.1 71.4h1.5v1.5h-1.5zM398.4 82.9h1.5v1.5h-1.5zM386.9 88.4h1.5v1.5h-1.5zM398.1 83.8h1.5v1.5h-1.5zM400.0 81.4h1.5v1.5h-1.5zM404.0 79.3h1.5v1.5h-1.5zM390.8 69.3h1.5v1.5h-1.5zM403.0 88.9h1.5v1.5h-1.5zM399.6 82.9h1.5v1.5h-1.5zM404.4 82.6h1.5v1.5h-1.5zM410.1 69.1h1.5v1.5h-1.5zM405.2 78.1h1.5v1.5h-1.5zM401.2 73.5h1.5v1.5h-1.5zM397.9 72.3h1.5v1.5h-1.5zM395.8 96.4h1.5v1.5h-1.5zM414.9 79.4h1.5v1.5h-1.5zM408.4 72.6h1.5v1.5h-1.5zM384.3 66.9h1.5v1.5h-1.5zM404.3 89.1h1.5v1.5h-1.5zM403.0 72.5h1.5v1.5h-1.5zM401.7 72.5h1.5v1.5h-1.5zM393.8 77.7h1.5v1.5h-1.5zM400.6 73.8h1.5v1.5h-1.5zM397.3 73.0h1.5v1.5h-1.5zM404.9 88.8h1.5v1.5h-1.5zM401.9 94.6h1.5v1.5h-1.5zM392.3 81.2h1.5v1.5h-1.5zM395.4 78.2h1.5v1.5h-1.5zM404.0 83.1h1.5v1.5h-1.5zM411.0 75.5h1.5v1.5h-1.5zM394.8 78.0h1.5v1.5h-1.5zM405.3 74.5h1.5v1.5h-1.5zM409.4 90.8h1.5v1.5h-1.5zM393.6 81.8h1.5v1.5h-1.5zM410.2 66.2h1.5v1.5h-1.5zM404.7 77.8h1.5v1.5h-1.5zM393.6 88.3h1.5v1.5h-1.5zM404.8 76.0h1.5v1.5h-1.5zM406.3 83.7h1.5v1.5h-1.5zM408.5 83.3h1.5v1.5h-1.5zM406.1 71.3h1.5v1.5h-1.5zM400.4 80.2h1.5v1.5h-1.5zM384.4 93.8h1.5v1.5h-1.5zM400.7 72.1h1.5v1.5h-1.5zM390.9 81.0h1.5v1.5h-1.5zM403.5 75.3h1.5v1.5h-1.5zM400.5 73.2h1.5v1.5h-1.5zM398.2 78.6h1.5v1.5h-1.5zM398.9 83.9h1.5v1.5h-1.5zM402.3 80.2h1.5v1.5h-1.5zM406.1 88.0h1.5v1.5h-1.5zM407.4 80.9h1.5v1.5h-1.5zM402.2 73.8h1.5v1.5h-1.5zM401.0 84.0h1.5v1.5h-1.5zM404.8 76.7h1.5v1.5h-1.5zM394.2 68.8h1.5v1.5h-1.5zM405.5 86.3h1.5v1.5h-1.5zM405.9 69.9h1.5v1.5h-1.5zM401.8 80.8h1.5v1.5h-1.5zM397.0 81.7h1.5v1.5h-1.5zM401.9 73.6h1.5v1.5h-1.5zM394.8 84.8h1.5v1.5h-1.5zM405.7 73.2h1.5v1.5h-1.5zM396.4 85.4h1.5v1.5h-1.5zM407.4 77.2h1.5v1.5h-1.5zM414.2 77.3h1.5v1.5h-1.5zM396.1 86.7h1.5v1.5h-1.5zM402.0 81.7h1.5v1.5h-1.5zM403.6 72.5h1.5v1.5h-1.5zM395.2 78.0h1.5v1.5h-1.5zM412.9 72.5h1.5v1.5h-1.5zM412.6 80.8h1.5v1.5h-1.5zM395.7 81.1h1.5v1.5h-1.5zM407.2 73.2h1.5v1.5h-1.5zM388.8 81.7h1.5v1.5h-1.5zM395.7 82.3h1.5v1.5h-1.5zM390.3 78.3h1.5v1.5h-1.5zM397.8 69.2h1.5v1.5h-1.5zM401.7 80.5h1.5v1.5h-1.5zM399.5 71.3h1.5v1.5h-1.5zM404.7 67.4h1.5v1.5h-1.5zM406.9 82.6h1.5v1.5h-1.5zM414.7 85.3h1.5v1.5h-1.5zM405.7 81.1h1.5v1.5h-1.5zM403.5 70.3h1.5v1.5h-1.5zM413.3 82.9h1.5v1.5h-1.5zM401.4 71.5h1.5v1.5h-1.5zM413.4 82.9h1.5v1.5h-1.5zM395.2 83.9h1.5v1.5h-1.5zM416.2 79.1h1.5v1.5h-1.5zM406.0 76.5h1.5v1.5h-1.5zM399.0 86.6h1.5v1.5h-1.5zM402.5 84.7h1.5v1.5h-1.5zM401.2 84.3h1.5v1.5h-1.5zM408.9 72.4h1.5v1.5h-1.5zM396.0 78.8h1.5v1.5h-1.5zM409.0 81.2h1.5v1.5h-1.5zM413.9 85.9h1.5v1.5h-1.5zM409.9 91.1h1.5v1.5h-1.5zM407.8 97.5h1.5v1.5h-1.5zM402.1 93.7h1.5v1.5h-1.5zM401.1 97.1h1.5v1.5h-1.5zM402.8 91.9h1.5v1.5h-1.5zM408.5 90.9h1.5v1.5h-1.5zM413.4 91.0h1.5v1.5h-1.5zM411.8 97.2h1.5v1.5h-1.5zM401.8 93.8h1.5v1.5h-1.5zM402.8 92.8h1.5v1.5h-1.5zM405.9 107.6h1.5v1.5h-1.5zM405.1 105.9h1.5v1.5h-1.5zM409.7 86.4h1.5v1.5h-1.5zM395.0 99.9h1.5v1.5h-1.5zM396.7 100.2h1.5v1.5h-1.5zM412.8 97.9h1.5v1.5h-1.5zM406.2 93.6h1.5v1.5h-1.5zM408.7 93.2h1.5v1.5h-1.5zM404.4 92.8h1.5v1.5h-1.5zM413.5 91.1h1.5v1.5h-1.5zM409.3 87.5h1.5v1.5h-1.5zM403.5 86.0h1.5v1.5h-1.5zM406.2 99.9h1.5v1.5h-1.5zM408.9 92.0h1.5v1.5h-1.5zM410.6 92.9h1.5v1.5h-1.5zM409.3 97.2h1.5v1.5h-1.5zM400.4 100.5h1.5v1.5h-1.5zM406.7 110.5h1.5v1.5h-1.5zM406.0 91.6h1.5v1.5h-1.5zM426.1 72.1h1.5v1.5h-1.5zM423.8 77.8h1.5v1.5h-1.5zM424.5 80.8h1.5v1.5h-1.5zM423.0 89.3h1.5v1.5h-1.5zM429.9 90.1h1.5v1.5h-1.5zM435.3 91.1h1.5v1.5h-1.5zM422.2 93.1h1.5v1.5h-1.5zM424.5 97.8h1.5v1.5h-1.5zM421.5 101.6h1.5v1.5h-1.5zM422.2 102.8h1.5v1.5h-1.5zM386.1 115.8h1.5v1.5h-1.5zM383.3 125.5h1.5v1.5h-1.5zM390.2 133.9h1.5v1.5h-1.5zM412.7 129.0h1.5v1.5h-1.5zM383.3 141.3h1.5v1.5h-1.5zM398.1 147.3h1.5v1.5h-1.5zM384.5 73.1h1.5v1.5h-1.5zM386.1 80.8h1.5v1.5h-1.5zM386.8 89.3h1.5v1.5h-1.5zM389.1 93.1h1.5v1.5h-1.5zM391.5 100.1h1.5v1.5h-1.5zM404.5 106.2h1.5v1.5h-1.5zM407.6 103.1h1.5v1.5h-1.5zM408.4 107.8h1.5v1.5h-1.5zM409.9 108.5h1.5v1.5h-1.5zM409.9 112.1h1.5v1.5h-1.5zM412.2 100.1h1.5v1.5h-1.5zM413.8 102.4h1.5v1.5h-1.5zM410.7 95.5h1.5v1.5h-1.5zM394.5 95.5h1.5v1.5h-1.5zM398.4 98.5h1.5v1.5h-1.5zM403.0 95.5h1.5v1.5h-1.5z" fill="#111"/>
<text class="b" x="383.9" y="50.5" font-size="12.2">(41.5)</text>
<path d="M67.0 314.60H72.5M68.9 306.44H72.5M68.9 301.67H72.5M68.9 298.28H72.5M68.9 295.66H72.5M68.9 293.51H72.5M68.9 291.70H72.5M68.9 290.13H72.5M68.9 288.74H72.5M67.0 287.50H72.5M68.9 279.34H72.5M68.9 274.57H72.5M68.9 271.18H72.5M68.9 268.56H72.5M68.9 266.41H72.5M68.9 264.60H72.5M68.9 263.03H72.5M68.9 261.64H72.5M67.0 260.40H72.5M68.9 252.24H72.5M68.9 247.47H72.5M68.9 244.08H72.5M68.9 241.46H72.5M68.9 239.31H72.5M68.9 237.50H72.5M68.9 235.93H72.5M68.9 234.54H72.5M67.0 233.30H72.5M68.9 225.14H72.5M68.9 220.37H72.5M68.9 216.98H72.5M68.9 214.36H72.5M68.9 212.21H72.5M68.9 210.40H72.5M68.9 208.83H72.5M68.9 207.44H72.5M67.0 206.20H72.5" stroke="#111" stroke-width="1.45" fill="none"/>
<path d="M72.50 314.6V316.6M82.44 314.6V316.2M88.26 314.6V316.2M92.38 314.6V316.2M95.58 314.6V316.2M98.20 314.6V316.2M100.41 314.6V316.2M102.32 314.6V316.2M104.01 314.6V316.2M105.53 314.6V316.6M115.47 314.6V316.2M121.28 314.6V316.2M125.41 314.6V316.2M128.61 314.6V316.2M131.22 314.6V316.2M133.43 314.6V316.2M135.35 314.6V316.2M137.04 314.6V316.2M138.55 314.6V316.6M148.49 314.6V316.2M154.31 314.6V316.2M158.43 314.6V316.2M161.63 314.6V316.2M164.25 314.6V316.2M166.46 314.6V316.2M168.37 314.6V316.2M170.06 314.6V316.2M171.57 314.6V316.6M181.52 314.6V316.2M187.33 314.6V316.2M191.46 314.6V316.2M194.66 314.6V316.2M197.27 314.6V316.2M199.48 314.6V316.2M201.40 314.6V316.2M203.09 314.6V316.2M204.60 314.6V316.6" stroke="#111" stroke-width="1.3" fill="none"/>
<rect x="72.5" y="206.2" width="132.1" height="108.4" fill="#fff"/>
<path d="M204.6 206.2V314.6" stroke="#333" stroke-width="1" fill="none"/>
<path d="M72.5 314.6H204.6" stroke="#111" stroke-width="1.2" fill="none"/>
<path d="M72.5 315.20000000000005V206.2H205.1" stroke="#111" stroke-width="1.35" fill="none"/>
<path d="M110.5 206.2V315.1M72.5 286.6H204.6" stroke="#111" stroke-width="1.35" fill="none"/>
<path d="M97.0 243.8h1.5v1.5h-1.5zM98.7 243.6h1.5v1.5h-1.5zM89.4 244.7h1.5v1.5h-1.5zM86.8 238.4h1.5v1.5h-1.5zM87.8 239.6h1.5v1.5h-1.5zM93.8 238.2h1.5v1.5h-1.5zM91.7 238.1h1.5v1.5h-1.5zM89.4 241.7h1.5v1.5h-1.5zM85.5 246.3h1.5v1.5h-1.5zM91.3 247.7h1.5v1.5h-1.5zM94.6 244.3h1.5v1.5h-1.5zM89.6 234.9h1.5v1.5h-1.5zM89.3 238.3h1.5v1.5h-1.5zM91.4 238.3h1.5v1.5h-1.5zM103.9 232.2h1.5v1.5h-1.5zM95.5 238.3h1.5v1.5h-1.5zM89.2 245.8h1.5v1.5h-1.5zM90.3 234.2h1.5v1.5h-1.5zM92.1 239.7h1.5v1.5h-1.5zM81.2 241.9h1.5v1.5h-1.5zM85.6 236.8h1.5v1.5h-1.5zM92.4 242.4h1.5v1.5h-1.5zM89.0 252.5h1.5v1.5h-1.5zM92.2 237.5h1.5v1.5h-1.5zM91.4 240.1h1.5v1.5h-1.5zM80.5 232.3h1.5v1.5h-1.5zM84.1 252.0h1.5v1.5h-1.5zM89.5 239.3h1.5v1.5h-1.5zM87.8 246.1h1.5v1.5h-1.5zM90.4 250.0h1.5v1.5h-1.5zM93.8 249.7h1.5v1.5h-1.5zM89.8 242.8h1.5v1.5h-1.5zM88.4 239.9h1.5v1.5h-1.5zM82.6 237.7h1.5v1.5h-1.5zM86.1 237.3h1.5v1.5h-1.5zM95.7 242.2h1.5v1.5h-1.5zM95.7 245.4h1.5v1.5h-1.5zM94.4 246.2h1.5v1.5h-1.5zM87.6 245.1h1.5v1.5h-1.5zM88.9 237.9h1.5v1.5h-1.5zM95.6 252.5h1.5v1.5h-1.5zM86.0 250.2h1.5v1.5h-1.5zM94.0 236.2h1.5v1.5h-1.5zM91.5 242.8h1.5v1.5h-1.5zM92.0 238.9h1.5v1.5h-1.5zM84.6 241.0h1.5v1.5h-1.5zM94.1 245.0h1.5v1.5h-1.5zM93.2 246.7h1.5v1.5h-1.5zM85.9 240.6h1.5v1.5h-1.5zM91.8 246.2h1.5v1.5h-1.5zM91.0 243.6h1.5v1.5h-1.5zM90.9 252.1h1.5v1.5h-1.5zM80.6 240.7h1.5v1.5h-1.5zM101.3 242.1h1.5v1.5h-1.5zM82.2 241.5h1.5v1.5h-1.5zM83.9 237.1h1.5v1.5h-1.5zM91.3 250.0h1.5v1.5h-1.5zM92.4 244.4h1.5v1.5h-1.5zM94.8 241.9h1.5v1.5h-1.5zM86.5 240.3h1.5v1.5h-1.5zM91.8 239.3h1.5v1.5h-1.5zM87.3 238.9h1.5v1.5h-1.5zM83.6 235.3h1.5v1.5h-1.5zM89.9 238.9h1.5v1.5h-1.5zM90.5 248.4h1.5v1.5h-1.5zM91.6 240.6h1.5v1.5h-1.5zM85.1 235.0h1.5v1.5h-1.5zM92.0 236.1h1.5v1.5h-1.5zM92.2 235.0h1.5v1.5h-1.5zM90.9 240.4h1.5v1.5h-1.5zM94.7 238.7h1.5v1.5h-1.5zM88.7 242.1h1.5v1.5h-1.5zM90.5 249.9h1.5v1.5h-1.5zM89.2 237.9h1.5v1.5h-1.5zM88.9 243.4h1.5v1.5h-1.5zM91.3 244.5h1.5v1.5h-1.5zM84.2 254.2h1.5v1.5h-1.5zM98.4 240.6h1.5v1.5h-1.5zM84.9 241.6h1.5v1.5h-1.5zM92.1 228.8h1.5v1.5h-1.5zM90.4 232.8h1.5v1.5h-1.5zM92.3 248.2h1.5v1.5h-1.5zM94.9 232.7h1.5v1.5h-1.5zM96.4 245.7h1.5v1.5h-1.5zM88.7 243.5h1.5v1.5h-1.5zM97.0 239.0h1.5v1.5h-1.5zM90.2 237.8h1.5v1.5h-1.5zM95.4 229.2h1.5v1.5h-1.5zM96.6 235.6h1.5v1.5h-1.5zM94.4 232.0h1.5v1.5h-1.5zM86.2 237.6h1.5v1.5h-1.5zM94.0 232.1h1.5v1.5h-1.5zM93.0 237.4h1.5v1.5h-1.5zM95.8 239.1h1.5v1.5h-1.5zM92.5 239.9h1.5v1.5h-1.5zM98.2 238.9h1.5v1.5h-1.5zM90.2 251.5h1.5v1.5h-1.5zM90.6 244.5h1.5v1.5h-1.5zM87.0 241.9h1.5v1.5h-1.5zM80.3 241.4h1.5v1.5h-1.5zM87.4 232.7h1.5v1.5h-1.5zM84.0 247.0h1.5v1.5h-1.5zM92.2 232.6h1.5v1.5h-1.5zM98.3 237.1h1.5v1.5h-1.5zM88.7 242.1h1.5v1.5h-1.5zM85.3 232.1h1.5v1.5h-1.5zM87.0 247.2h1.5v1.5h-1.5zM94.5 232.3h1.5v1.5h-1.5zM95.6 241.0h1.5v1.5h-1.5zM92.5 241.1h1.5v1.5h-1.5zM92.1 235.4h1.5v1.5h-1.5zM86.3 237.0h1.5v1.5h-1.5zM88.7 244.1h1.5v1.5h-1.5zM84.9 249.4h1.5v1.5h-1.5zM87.5 237.6h1.5v1.5h-1.5zM93.4 243.1h1.5v1.5h-1.5zM88.8 235.0h1.5v1.5h-1.5zM85.9 232.2h1.5v1.5h-1.5zM95.4 246.6h1.5v1.5h-1.5zM98.6 243.5h1.5v1.5h-1.5zM91.8 244.9h1.5v1.5h-1.5zM94.5 239.4h1.5v1.5h-1.5zM91.9 252.4h1.5v1.5h-1.5zM82.8 233.2h1.5v1.5h-1.5zM86.0 244.9h1.5v1.5h-1.5zM95.6 239.0h1.5v1.5h-1.5zM93.3 240.5h1.5v1.5h-1.5zM91.6 237.9h1.5v1.5h-1.5zM90.2 240.8h1.5v1.5h-1.5zM95.3 252.8h1.5v1.5h-1.5zM82.3 243.7h1.5v1.5h-1.5zM90.3 246.0h1.5v1.5h-1.5zM95.0 245.0h1.5v1.5h-1.5zM93.9 235.7h1.5v1.5h-1.5zM82.7 249.8h1.5v1.5h-1.5zM95.7 235.7h1.5v1.5h-1.5zM96.0 244.4h1.5v1.5h-1.5zM79.4 245.6h1.5v1.5h-1.5zM85.9 247.1h1.5v1.5h-1.5zM87.3 236.8h1.5v1.5h-1.5zM83.5 239.6h1.5v1.5h-1.5zM94.8 237.2h1.5v1.5h-1.5zM82.1 252.4h1.5v1.5h-1.5zM98.5 244.5h1.5v1.5h-1.5zM87.9 234.3h1.5v1.5h-1.5zM83.0 243.8h1.5v1.5h-1.5zM96.1 235.1h1.5v1.5h-1.5zM90.3 239.3h1.5v1.5h-1.5zM89.2 243.5h1.5v1.5h-1.5zM99.6 237.4h1.5v1.5h-1.5zM79.7 258.7h1.5v1.5h-1.5zM84.5 263.5h1.5v1.5h-1.5zM88.3 265.5h1.5v1.5h-1.5zM92.2 260.6h1.5v1.5h-1.5zM96.0 257.8h1.5v1.5h-1.5zM98.9 264.5h1.5v1.5h-1.5zM101.8 264.5h1.5v1.5h-1.5zM105.6 259.7h1.5v1.5h-1.5zM106.6 263.5h1.5v1.5h-1.5zM99.9 253.9h1.5v1.5h-1.5zM104.7 254.9h1.5v1.5h-1.5zM94.1 271.2h1.5v1.5h-1.5zM96.0 278.0h1.5v1.5h-1.5zM100.8 278.0h1.5v1.5h-1.5zM107.6 279.3h1.5v1.5h-1.5zM103.7 228.0h1.5v1.5h-1.5zM106.6 241.4h1.5v1.5h-1.5zM77.8 238.5h1.5v1.5h-1.5zM73.9 251.0h1.5v1.5h-1.5zM89.3 255.8h1.5v1.5h-1.5zM93.1 256.8h1.5v1.5h-1.5zM83.5 254.9h1.5v1.5h-1.5zM97.0 254.9h1.5v1.5h-1.5zM102.8 257.8h1.5v1.5h-1.5zM85.5 260.6h1.5v1.5h-1.5zM98.0 261.6h1.5v1.5h-1.5zM100.8 265.5h1.5v1.5h-1.5zM112.0 230.5h1.5v1.5h-1.5zM114.7 235.1h1.5v1.5h-1.5zM118.7 247.6h1.5v1.5h-1.5zM114.7 256.8h1.5v1.5h-1.5zM114.7 263.1h1.5v1.5h-1.5zM114.7 265.5h1.5v1.5h-1.5zM116.2 265.5h1.5v1.5h-1.5zM115.3 267.4h1.5v1.5h-1.5zM126.2 266.4h1.5v1.5h-1.5zM127.8 268.9h1.5v1.5h-1.5zM132.0 280.8h1.5v1.5h-1.5zM145.1 296.8h1.5v1.5h-1.5zM134.5 305.8h1.5v1.5h-1.5zM100.8 288.9h1.5v1.5h-1.5zM103.7 291.4h1.5v1.5h-1.5zM95.5 297.8h1.5v1.5h-1.5zM91.2 302.4h1.5v1.5h-1.5zM100.8 302.4h1.5v1.5h-1.5zM83.1 303.5h1.5v1.5h-1.5zM85.8 305.8h1.5v1.5h-1.5z" fill="#111"/>
<text class="b" x="74.6" y="223.5" font-size="12.2">(12.3)</text>
<path d="M219.4 316.40H224.9M221.3 308.11H224.9M221.3 303.26H224.9M221.3 299.81H224.9M221.3 297.14H224.9M221.3 294.96H224.9M221.3 293.12H224.9M221.3 291.52H224.9M221.3 290.11H224.9M219.4 288.85H224.9M221.3 280.56H224.9M221.3 275.71H224.9M221.3 272.26H224.9M221.3 269.59H224.9M221.3 267.41H224.9M221.3 265.57H224.9M221.3 263.97H224.9M221.3 262.56H224.9M219.4 261.30H224.9M221.3 253.01H224.9M221.3 248.16H224.9M221.3 244.71H224.9M221.3 242.04H224.9M221.3 239.86H224.9M221.3 238.02H224.9M221.3 236.42H224.9M221.3 235.01H224.9M219.4 233.75H224.9M221.3 225.46H224.9M221.3 220.61H224.9M221.3 217.16H224.9M221.3 214.49H224.9M221.3 212.31H224.9M221.3 210.47H224.9M221.3 208.87H224.9M221.3 207.46H224.9M219.4 206.20H224.9" stroke="#111" stroke-width="1.45" fill="none"/>
<path d="M224.90 316.6V319.8M234.96 316.6V318.6M240.85 316.6V318.6M245.02 316.6V318.6M248.26 316.6V318.6M250.91 316.6V318.6M253.15 316.6V318.6M255.09 316.6V318.6M256.80 316.6V318.6M258.32 316.6V319.8M268.39 316.6V318.6M274.27 316.6V318.6M278.45 316.6V318.6M281.69 316.6V318.6M284.33 316.6V318.6M286.57 316.6V318.6M288.51 316.6V318.6M290.22 316.6V318.6M291.75 316.6V319.8M301.81 316.6V318.6M307.70 316.6V318.6M311.87 316.6V318.6M315.11 316.6V318.6M317.76 316.6V318.6M320.00 316.6V318.6M321.94 316.6V318.6M323.65 316.6V318.6M325.18 316.6V319.8M335.24 316.6V318.6M341.12 316.6V318.6M345.30 316.6V318.6M348.54 316.6V318.6M351.18 316.6V318.6M353.42 316.6V318.6M355.36 316.6V318.6M357.07 316.6V318.6M358.60 316.6V319.8" stroke="#111" stroke-width="1.3" fill="none"/>
<rect x="224.9" y="206.2" width="133.7" height="110.2" fill="#fff"/>
<path d="M358.6 206.2V316.4" stroke="#333" stroke-width="1" fill="none"/>
<path d="M224.9 317.0V206.2H359.1" stroke="#111" stroke-width="1.35" fill="none"/>
<path d="M262.6 206.2V316.9M224.9 287.4H358.6" stroke="#111" stroke-width="1.35" fill="none"/>
<path d="M246.4 244.9h1.5v1.5h-1.5zM241.3 239.1h1.5v1.5h-1.5zM236.7 244.9h1.5v1.5h-1.5zM240.2 236.7h1.5v1.5h-1.5zM242.9 235.7h1.5v1.5h-1.5zM238.0 238.4h1.5v1.5h-1.5zM249.2 238.8h1.5v1.5h-1.5zM244.9 232.9h1.5v1.5h-1.5zM234.0 248.4h1.5v1.5h-1.5zM240.8 232.5h1.5v1.5h-1.5zM242.1 242.7h1.5v1.5h-1.5zM234.9 235.6h1.5v1.5h-1.5zM243.8 235.4h1.5v1.5h-1.5zM246.1 244.3h1.5v1.5h-1.5zM244.6 237.8h1.5v1.5h-1.5zM242.4 236.8h1.5v1.5h-1.5zM242.0 241.3h1.5v1.5h-1.5zM241.3 244.4h1.5v1.5h-1.5zM254.1 237.2h1.5v1.5h-1.5zM244.1 243.7h1.5v1.5h-1.5zM245.5 238.7h1.5v1.5h-1.5zM240.5 244.5h1.5v1.5h-1.5zM245.4 242.2h1.5v1.5h-1.5zM239.0 242.8h1.5v1.5h-1.5zM246.1 238.9h1.5v1.5h-1.5zM245.5 250.1h1.5v1.5h-1.5zM234.3 242.7h1.5v1.5h-1.5zM237.4 233.3h1.5v1.5h-1.5zM241.6 242.4h1.5v1.5h-1.5zM242.8 234.3h1.5v1.5h-1.5zM236.2 237.2h1.5v1.5h-1.5zM242.7 235.9h1.5v1.5h-1.5zM235.9 248.1h1.5v1.5h-1.5zM238.9 239.1h1.5v1.5h-1.5zM240.2 237.0h1.5v1.5h-1.5zM242.8 238.4h1.5v1.5h-1.5zM245.4 234.2h1.5v1.5h-1.5zM236.0 249.0h1.5v1.5h-1.5zM242.3 243.4h1.5v1.5h-1.5zM247.9 242.4h1.5v1.5h-1.5zM242.8 232.4h1.5v1.5h-1.5zM235.5 244.4h1.5v1.5h-1.5zM245.6 242.5h1.5v1.5h-1.5zM235.2 229.7h1.5v1.5h-1.5zM237.9 234.2h1.5v1.5h-1.5zM243.3 235.0h1.5v1.5h-1.5zM249.7 236.8h1.5v1.5h-1.5zM240.1 243.9h1.5v1.5h-1.5zM244.1 235.5h1.5v1.5h-1.5zM246.3 248.9h1.5v1.5h-1.5zM237.1 238.6h1.5v1.5h-1.5zM237.8 230.6h1.5v1.5h-1.5zM245.4 243.1h1.5v1.5h-1.5zM246.9 241.8h1.5v1.5h-1.5zM233.6 239.7h1.5v1.5h-1.5zM239.6 234.2h1.5v1.5h-1.5zM237.7 243.4h1.5v1.5h-1.5zM241.3 249.2h1.5v1.5h-1.5zM244.7 230.7h1.5v1.5h-1.5zM246.6 245.7h1.5v1.5h-1.5zM242.7 234.0h1.5v1.5h-1.5zM250.5 233.5h1.5v1.5h-1.5zM242.2 230.7h1.5v1.5h-1.5zM237.0 231.7h1.5v1.5h-1.5zM247.5 245.4h1.5v1.5h-1.5zM240.8 233.3h1.5v1.5h-1.5zM242.3 241.6h1.5v1.5h-1.5zM235.8 234.3h1.5v1.5h-1.5zM242.1 243.2h1.5v1.5h-1.5zM242.9 241.9h1.5v1.5h-1.5zM237.0 227.9h1.5v1.5h-1.5zM244.0 235.4h1.5v1.5h-1.5zM242.0 238.0h1.5v1.5h-1.5zM244.8 236.1h1.5v1.5h-1.5zM249.1 239.9h1.5v1.5h-1.5zM245.0 242.8h1.5v1.5h-1.5zM247.3 241.7h1.5v1.5h-1.5zM234.7 236.8h1.5v1.5h-1.5zM251.0 242.1h1.5v1.5h-1.5zM245.1 242.0h1.5v1.5h-1.5zM239.7 236.6h1.5v1.5h-1.5zM239.7 245.3h1.5v1.5h-1.5zM244.2 248.3h1.5v1.5h-1.5zM244.8 248.9h1.5v1.5h-1.5zM244.7 234.1h1.5v1.5h-1.5zM250.4 241.4h1.5v1.5h-1.5zM248.0 240.8h1.5v1.5h-1.5zM241.1 240.6h1.5v1.5h-1.5zM237.5 234.1h1.5v1.5h-1.5zM238.6 237.3h1.5v1.5h-1.5zM236.5 239.3h1.5v1.5h-1.5zM244.0 249.5h1.5v1.5h-1.5zM250.9 239.6h1.5v1.5h-1.5zM246.6 238.7h1.5v1.5h-1.5zM244.4 239.6h1.5v1.5h-1.5zM240.2 240.2h1.5v1.5h-1.5zM235.9 241.9h1.5v1.5h-1.5zM241.3 234.6h1.5v1.5h-1.5zM241.0 242.5h1.5v1.5h-1.5zM239.5 242.1h1.5v1.5h-1.5zM245.2 247.3h1.5v1.5h-1.5zM237.7 239.3h1.5v1.5h-1.5zM244.9 247.0h1.5v1.5h-1.5zM243.8 243.4h1.5v1.5h-1.5zM236.0 237.0h1.5v1.5h-1.5zM250.1 238.4h1.5v1.5h-1.5zM252.4 236.3h1.5v1.5h-1.5zM241.3 232.1h1.5v1.5h-1.5zM245.5 241.1h1.5v1.5h-1.5zM251.8 240.6h1.5v1.5h-1.5zM241.5 233.0h1.5v1.5h-1.5zM242.2 244.4h1.5v1.5h-1.5zM246.0 245.7h1.5v1.5h-1.5zM246.5 239.6h1.5v1.5h-1.5zM245.3 240.6h1.5v1.5h-1.5zM236.6 248.1h1.5v1.5h-1.5zM244.3 234.7h1.5v1.5h-1.5zM244.4 241.2h1.5v1.5h-1.5zM247.1 246.8h1.5v1.5h-1.5zM228.8 242.5h1.5v1.5h-1.5zM249.6 235.2h1.5v1.5h-1.5zM234.1 241.2h1.5v1.5h-1.5zM244.1 241.5h1.5v1.5h-1.5zM237.6 237.5h1.5v1.5h-1.5zM243.5 243.4h1.5v1.5h-1.5zM252.6 241.2h1.5v1.5h-1.5zM239.9 228.4h1.5v1.5h-1.5zM247.5 239.2h1.5v1.5h-1.5zM242.1 235.0h1.5v1.5h-1.5zM245.9 231.1h1.5v1.5h-1.5zM243.1 240.4h1.5v1.5h-1.5zM244.0 246.1h1.5v1.5h-1.5zM242.1 240.3h1.5v1.5h-1.5zM246.5 232.3h1.5v1.5h-1.5zM241.3 240.1h1.5v1.5h-1.5zM247.0 235.9h1.5v1.5h-1.5zM246.3 241.7h1.5v1.5h-1.5zM235.8 232.6h1.5v1.5h-1.5zM236.1 240.5h1.5v1.5h-1.5zM243.5 243.3h1.5v1.5h-1.5zM246.3 237.1h1.5v1.5h-1.5zM247.5 243.8h1.5v1.5h-1.5zM244.8 242.1h1.5v1.5h-1.5zM236.7 241.6h1.5v1.5h-1.5zM237.9 234.0h1.5v1.5h-1.5zM241.0 240.5h1.5v1.5h-1.5zM242.4 238.2h1.5v1.5h-1.5zM238.0 240.7h1.5v1.5h-1.5zM239.2 232.9h1.5v1.5h-1.5zM243.0 246.9h1.5v1.5h-1.5zM240.7 234.6h1.5v1.5h-1.5zM248.9 248.1h1.5v1.5h-1.5zM241.3 238.8h1.5v1.5h-1.5zM243.6 254.2h1.5v1.5h-1.5zM243.2 244.6h1.5v1.5h-1.5zM244.6 230.9h1.5v1.5h-1.5zM237.6 233.8h1.5v1.5h-1.5zM244.6 240.3h1.5v1.5h-1.5zM250.8 238.5h1.5v1.5h-1.5zM244.0 240.2h1.5v1.5h-1.5zM243.2 251.1h1.5v1.5h-1.5zM243.9 247.0h1.5v1.5h-1.5zM248.5 236.8h1.5v1.5h-1.5zM245.7 237.9h1.5v1.5h-1.5zM243.1 240.6h1.5v1.5h-1.5zM242.7 237.5h1.5v1.5h-1.5zM249.7 238.5h1.5v1.5h-1.5zM245.8 248.0h1.5v1.5h-1.5zM245.5 244.8h1.5v1.5h-1.5zM249.0 245.1h1.5v1.5h-1.5zM250.5 232.8h1.5v1.5h-1.5zM251.6 239.9h1.5v1.5h-1.5zM234.6 236.7h1.5v1.5h-1.5zM236.2 239.7h1.5v1.5h-1.5zM235.8 234.9h1.5v1.5h-1.5zM244.0 240.6h1.5v1.5h-1.5zM238.9 238.7h1.5v1.5h-1.5zM242.1 240.2h1.5v1.5h-1.5zM242.6 238.7h1.5v1.5h-1.5zM246.6 231.9h1.5v1.5h-1.5zM240.3 240.5h1.5v1.5h-1.5zM240.8 237.1h1.5v1.5h-1.5zM240.6 240.8h1.5v1.5h-1.5zM248.3 238.9h1.5v1.5h-1.5zM241.4 241.5h1.5v1.5h-1.5zM241.5 230.3h1.5v1.5h-1.5zM243.8 238.0h1.5v1.5h-1.5zM240.0 242.9h1.5v1.5h-1.5zM242.8 237.0h1.5v1.5h-1.5zM232.6 231.4h1.5v1.5h-1.5zM242.7 239.2h1.5v1.5h-1.5zM244.6 240.9h1.5v1.5h-1.5zM240.4 233.6h1.5v1.5h-1.5zM237.6 239.1h1.5v1.5h-1.5zM237.3 243.5h1.5v1.5h-1.5zM236.5 231.0h1.5v1.5h-1.5zM241.7 231.1h1.5v1.5h-1.5zM250.1 234.9h1.5v1.5h-1.5zM242.4 238.6h1.5v1.5h-1.5zM238.8 231.1h1.5v1.5h-1.5zM234.0 244.0h1.5v1.5h-1.5zM247.3 250.4h1.5v1.5h-1.5zM235.9 242.5h1.5v1.5h-1.5zM242.5 243.9h1.5v1.5h-1.5zM240.2 243.3h1.5v1.5h-1.5zM246.7 242.8h1.5v1.5h-1.5zM249.3 238.9h1.5v1.5h-1.5zM249.7 236.4h1.5v1.5h-1.5zM250.3 226.3h1.5v1.5h-1.5zM242.7 235.9h1.5v1.5h-1.5zM242.6 244.9h1.5v1.5h-1.5zM245.9 240.3h1.5v1.5h-1.5zM250.4 232.6h1.5v1.5h-1.5zM238.9 247.2h1.5v1.5h-1.5zM244.1 229.6h1.5v1.5h-1.5zM244.2 234.0h1.5v1.5h-1.5zM249.4 245.4h1.5v1.5h-1.5zM240.1 246.1h1.5v1.5h-1.5zM238.8 244.3h1.5v1.5h-1.5zM245.3 239.2h1.5v1.5h-1.5zM236.1 238.4h1.5v1.5h-1.5zM232.1 237.0h1.5v1.5h-1.5zM234.1 245.8h1.5v1.5h-1.5zM238.2 227.9h1.5v1.5h-1.5zM245.3 241.6h1.5v1.5h-1.5zM240.3 250.2h1.5v1.5h-1.5zM246.2 240.1h1.5v1.5h-1.5zM239.6 225.3h1.5v1.5h-1.5zM244.8 244.5h1.5v1.5h-1.5zM239.9 232.9h1.5v1.5h-1.5zM242.4 231.6h1.5v1.5h-1.5zM242.6 243.6h1.5v1.5h-1.5zM249.5 241.1h1.5v1.5h-1.5zM243.5 243.5h1.5v1.5h-1.5zM249.0 238.2h1.5v1.5h-1.5zM237.0 235.9h1.5v1.5h-1.5zM236.8 235.4h1.5v1.5h-1.5zM242.0 241.5h1.5v1.5h-1.5zM243.3 240.1h1.5v1.5h-1.5zM241.0 241.9h1.5v1.5h-1.5zM246.7 243.5h1.5v1.5h-1.5zM249.5 238.4h1.5v1.5h-1.5zM241.4 248.1h1.5v1.5h-1.5zM243.5 241.8h1.5v1.5h-1.5zM241.1 244.5h1.5v1.5h-1.5zM240.7 234.9h1.5v1.5h-1.5zM242.3 237.6h1.5v1.5h-1.5zM246.4 237.9h1.5v1.5h-1.5zM243.2 238.7h1.5v1.5h-1.5zM244.2 236.7h1.5v1.5h-1.5zM247.7 232.8h1.5v1.5h-1.5zM240.8 236.3h1.5v1.5h-1.5zM245.6 240.0h1.5v1.5h-1.5zM244.8 238.2h1.5v1.5h-1.5zM239.3 234.3h1.5v1.5h-1.5zM241.1 237.2h1.5v1.5h-1.5zM243.9 241.5h1.5v1.5h-1.5zM247.1 239.3h1.5v1.5h-1.5zM239.2 234.6h1.5v1.5h-1.5zM242.9 241.6h1.5v1.5h-1.5zM251.6 240.7h1.5v1.5h-1.5zM250.7 249.0h1.5v1.5h-1.5zM237.8 245.7h1.5v1.5h-1.5zM247.8 246.4h1.5v1.5h-1.5zM242.6 244.5h1.5v1.5h-1.5zM240.4 239.5h1.5v1.5h-1.5zM242.7 248.5h1.5v1.5h-1.5zM241.6 244.5h1.5v1.5h-1.5zM242.9 236.3h1.5v1.5h-1.5zM243.7 243.0h1.5v1.5h-1.5zM239.3 242.9h1.5v1.5h-1.5zM239.3 235.5h1.5v1.5h-1.5zM243.6 238.6h1.5v1.5h-1.5zM238.1 231.8h1.5v1.5h-1.5zM242.7 241.0h1.5v1.5h-1.5zM240.5 240.7h1.5v1.5h-1.5zM235.6 241.7h1.5v1.5h-1.5zM244.5 241.2h1.5v1.5h-1.5zM239.8 240.2h1.5v1.5h-1.5zM243.2 245.0h1.5v1.5h-1.5zM243.9 241.0h1.5v1.5h-1.5zM239.3 244.0h1.5v1.5h-1.5zM248.0 237.4h1.5v1.5h-1.5zM245.5 241.3h1.5v1.5h-1.5zM242.4 233.5h1.5v1.5h-1.5zM250.7 230.7h1.5v1.5h-1.5zM244.0 238.0h1.5v1.5h-1.5zM247.9 237.7h1.5v1.5h-1.5zM242.8 242.8h1.5v1.5h-1.5zM244.7 237.3h1.5v1.5h-1.5zM245.7 241.7h1.5v1.5h-1.5zM247.1 237.3h1.5v1.5h-1.5zM242.4 237.9h1.5v1.5h-1.5zM238.8 241.0h1.5v1.5h-1.5zM244.5 246.7h1.5v1.5h-1.5zM241.1 241.7h1.5v1.5h-1.5zM247.8 239.2h1.5v1.5h-1.5zM242.9 240.5h1.5v1.5h-1.5zM239.4 235.0h1.5v1.5h-1.5zM247.7 240.6h1.5v1.5h-1.5zM242.3 233.7h1.5v1.5h-1.5zM243.1 245.5h1.5v1.5h-1.5zM237.3 235.4h1.5v1.5h-1.5zM247.7 246.8h1.5v1.5h-1.5zM249.7 237.1h1.5v1.5h-1.5zM245.4 236.1h1.5v1.5h-1.5zM245.0 238.0h1.5v1.5h-1.5zM243.5 246.3h1.5v1.5h-1.5zM244.2 238.6h1.5v1.5h-1.5zM242.9 241.1h1.5v1.5h-1.5zM240.3 240.8h1.5v1.5h-1.5zM245.3 247.4h1.5v1.5h-1.5zM233.2 234.0h1.5v1.5h-1.5zM236.9 244.1h1.5v1.5h-1.5zM253.8 240.7h1.5v1.5h-1.5zM243.2 245.3h1.5v1.5h-1.5zM231.4 238.9h1.5v1.5h-1.5zM228.4 240.6h1.5v1.5h-1.5zM240.3 237.4h1.5v1.5h-1.5zM244.2 237.0h1.5v1.5h-1.5zM247.7 239.8h1.5v1.5h-1.5zM244.3 252.2h1.5v1.5h-1.5zM240.6 244.3h1.5v1.5h-1.5zM238.8 245.9h1.5v1.5h-1.5zM247.0 240.5h1.5v1.5h-1.5zM247.1 247.6h1.5v1.5h-1.5zM248.9 239.8h1.5v1.5h-1.5zM242.4 245.2h1.5v1.5h-1.5zM235.9 236.9h1.5v1.5h-1.5zM244.8 242.6h1.5v1.5h-1.5zM251.1 248.3h1.5v1.5h-1.5zM244.1 241.9h1.5v1.5h-1.5zM236.6 238.9h1.5v1.5h-1.5zM243.8 238.7h1.5v1.5h-1.5zM242.9 242.8h1.5v1.5h-1.5zM238.3 237.0h1.5v1.5h-1.5zM234.5 245.4h1.5v1.5h-1.5zM237.8 231.5h1.5v1.5h-1.5zM246.1 238.8h1.5v1.5h-1.5zM247.0 238.0h1.5v1.5h-1.5zM252.3 243.3h1.5v1.5h-1.5zM243.3 240.4h1.5v1.5h-1.5zM241.7 243.7h1.5v1.5h-1.5zM251.7 237.8h1.5v1.5h-1.5zM237.6 242.7h1.5v1.5h-1.5zM247.5 232.6h1.5v1.5h-1.5zM239.5 235.0h1.5v1.5h-1.5zM245.2 242.2h1.5v1.5h-1.5zM239.3 234.3h1.5v1.5h-1.5zM245.7 229.8h1.5v1.5h-1.5zM245.5 239.0h1.5v1.5h-1.5zM251.3 244.6h1.5v1.5h-1.5zM240.0 238.5h1.5v1.5h-1.5zM241.3 236.3h1.5v1.5h-1.5zM243.0 244.5h1.5v1.5h-1.5zM235.8 238.7h1.5v1.5h-1.5zM249.4 243.4h1.5v1.5h-1.5zM238.9 235.9h1.5v1.5h-1.5zM238.7 232.0h1.5v1.5h-1.5zM247.8 240.1h1.5v1.5h-1.5zM239.4 232.9h1.5v1.5h-1.5zM240.9 237.3h1.5v1.5h-1.5zM250.4 237.6h1.5v1.5h-1.5zM243.1 245.0h1.5v1.5h-1.5zM245.6 238.9h1.5v1.5h-1.5zM232.7 246.6h1.5v1.5h-1.5zM245.3 237.7h1.5v1.5h-1.5zM242.2 235.2h1.5v1.5h-1.5zM238.5 232.6h1.5v1.5h-1.5zM244.9 242.3h1.5v1.5h-1.5zM243.4 243.6h1.5v1.5h-1.5zM245.0 240.4h1.5v1.5h-1.5zM238.6 242.6h1.5v1.5h-1.5zM248.0 242.8h1.5v1.5h-1.5zM248.2 237.5h1.5v1.5h-1.5zM238.2 245.8h1.5v1.5h-1.5zM240.0 241.0h1.5v1.5h-1.5zM241.7 239.9h1.5v1.5h-1.5zM241.4 237.2h1.5v1.5h-1.5zM234.5 249.0h1.5v1.5h-1.5zM243.5 230.5h1.5v1.5h-1.5zM238.5 234.4h1.5v1.5h-1.5zM239.3 227.5h1.5v1.5h-1.5zM245.2 247.7h1.5v1.5h-1.5zM241.5 243.4h1.5v1.5h-1.5zM245.3 233.8h1.5v1.5h-1.5zM248.1 231.7h1.5v1.5h-1.5zM240.0 238.1h1.5v1.5h-1.5zM248.3 240.4h1.5v1.5h-1.5zM242.0 235.9h1.5v1.5h-1.5zM243.0 240.0h1.5v1.5h-1.5zM245.9 246.5h1.5v1.5h-1.5zM245.9 239.9h1.5v1.5h-1.5zM241.9 247.5h1.5v1.5h-1.5zM243.5 239.7h1.5v1.5h-1.5zM250.7 247.3h1.5v1.5h-1.5zM245.2 239.3h1.5v1.5h-1.5zM239.7 244.9h1.5v1.5h-1.5zM240.6 244.4h1.5v1.5h-1.5zM239.1 240.3h1.5v1.5h-1.5zM244.4 240.5h1.5v1.5h-1.5zM243.7 241.6h1.5v1.5h-1.5zM237.5 234.5h1.5v1.5h-1.5zM241.9 248.5h1.5v1.5h-1.5zM242.0 235.4h1.5v1.5h-1.5zM239.6 240.0h1.5v1.5h-1.5zM247.9 237.1h1.5v1.5h-1.5zM245.1 240.7h1.5v1.5h-1.5zM241.0 235.3h1.5v1.5h-1.5zM241.9 236.3h1.5v1.5h-1.5zM245.0 231.4h1.5v1.5h-1.5zM247.7 243.4h1.5v1.5h-1.5zM245.2 247.0h1.5v1.5h-1.5zM245.3 231.6h1.5v1.5h-1.5zM242.8 242.0h1.5v1.5h-1.5zM239.5 234.4h1.5v1.5h-1.5zM244.5 242.2h1.5v1.5h-1.5zM240.7 238.6h1.5v1.5h-1.5zM240.3 237.1h1.5v1.5h-1.5zM242.3 244.9h1.5v1.5h-1.5zM235.4 238.2h1.5v1.5h-1.5zM249.8 241.3h1.5v1.5h-1.5zM243.3 243.8h1.5v1.5h-1.5zM238.1 234.0h1.5v1.5h-1.5zM235.2 232.8h1.5v1.5h-1.5zM243.7 243.9h1.5v1.5h-1.5zM240.7 236.6h1.5v1.5h-1.5zM244.4 242.7h1.5v1.5h-1.5zM243.8 230.7h1.5v1.5h-1.5zM240.2 227.7h1.5v1.5h-1.5zM243.7 235.7h1.5v1.5h-1.5zM239.7 247.0h1.5v1.5h-1.5zM248.5 242.1h1.5v1.5h-1.5zM243.8 240.6h1.5v1.5h-1.5zM240.0 239.6h1.5v1.5h-1.5zM251.2 235.6h1.5v1.5h-1.5zM239.6 240.6h1.5v1.5h-1.5zM246.6 243.8h1.5v1.5h-1.5zM238.3 239.2h1.5v1.5h-1.5zM241.4 233.9h1.5v1.5h-1.5zM242.9 237.5h1.5v1.5h-1.5zM246.7 241.9h1.5v1.5h-1.5zM239.1 240.2h1.5v1.5h-1.5zM241.0 236.8h1.5v1.5h-1.5zM240.4 244.9h1.5v1.5h-1.5zM240.8 231.6h1.5v1.5h-1.5zM239.1 243.6h1.5v1.5h-1.5zM252.2 234.8h1.5v1.5h-1.5zM241.0 238.2h1.5v1.5h-1.5zM236.3 241.7h1.5v1.5h-1.5zM242.4 241.1h1.5v1.5h-1.5zM252.6 238.5h1.5v1.5h-1.5zM246.2 243.8h1.5v1.5h-1.5zM239.8 237.0h1.5v1.5h-1.5zM249.6 243.2h1.5v1.5h-1.5zM243.2 234.6h1.5v1.5h-1.5zM246.6 242.3h1.5v1.5h-1.5zM252.4 246.8h1.5v1.5h-1.5zM246.2 241.1h1.5v1.5h-1.5zM242.9 237.2h1.5v1.5h-1.5zM244.0 241.0h1.5v1.5h-1.5zM245.5 245.0h1.5v1.5h-1.5zM244.0 237.2h1.5v1.5h-1.5zM246.2 247.2h1.5v1.5h-1.5zM238.9 241.8h1.5v1.5h-1.5zM245.1 242.4h1.5v1.5h-1.5zM244.9 239.4h1.5v1.5h-1.5zM242.1 247.8h1.5v1.5h-1.5zM250.3 233.1h1.5v1.5h-1.5zM231.3 241.9h1.5v1.5h-1.5zM239.6 237.3h1.5v1.5h-1.5zM235.5 241.5h1.5v1.5h-1.5zM242.4 237.2h1.5v1.5h-1.5zM246.6 251.4h1.5v1.5h-1.5zM249.2 245.4h1.5v1.5h-1.5zM240.8 242.9h1.5v1.5h-1.5zM242.4 245.3h1.5v1.5h-1.5zM245.2 239.6h1.5v1.5h-1.5zM245.1 236.4h1.5v1.5h-1.5zM246.1 247.0h1.5v1.5h-1.5zM241.0 242.4h1.5v1.5h-1.5zM235.2 244.3h1.5v1.5h-1.5zM246.5 234.9h1.5v1.5h-1.5zM250.4 240.3h1.5v1.5h-1.5zM234.9 233.3h1.5v1.5h-1.5zM246.5 238.5h1.5v1.5h-1.5zM247.5 232.4h1.5v1.5h-1.5zM242.2 244.5h1.5v1.5h-1.5zM239.6 243.0h1.5v1.5h-1.5zM241.0 241.4h1.5v1.5h-1.5zM244.0 250.4h1.5v1.5h-1.5zM237.1 243.5h1.5v1.5h-1.5zM248.5 234.4h1.5v1.5h-1.5zM243.0 250.8h1.5v1.5h-1.5zM247.3 225.7h1.5v1.5h-1.5zM241.5 231.7h1.5v1.5h-1.5zM244.0 236.3h1.5v1.5h-1.5zM240.1 235.8h1.5v1.5h-1.5zM243.9 237.6h1.5v1.5h-1.5zM238.6 238.7h1.5v1.5h-1.5zM244.4 235.7h1.5v1.5h-1.5zM247.6 231.9h1.5v1.5h-1.5zM244.4 238.0h1.5v1.5h-1.5zM249.6 236.7h1.5v1.5h-1.5zM239.6 233.4h1.5v1.5h-1.5zM251.5 242.7h1.5v1.5h-1.5zM237.8 238.2h1.5v1.5h-1.5zM238.3 247.1h1.5v1.5h-1.5zM244.5 230.1h1.5v1.5h-1.5zM243.5 244.2h1.5v1.5h-1.5zM242.6 242.1h1.5v1.5h-1.5zM242.1 240.8h1.5v1.5h-1.5zM243.6 236.4h1.5v1.5h-1.5zM244.2 240.6h1.5v1.5h-1.5zM242.4 236.5h1.5v1.5h-1.5zM238.1 241.0h1.5v1.5h-1.5zM246.3 228.3h1.5v1.5h-1.5zM240.2 246.2h1.5v1.5h-1.5zM246.7 236.4h1.5v1.5h-1.5zM248.6 235.1h1.5v1.5h-1.5zM239.1 249.0h1.5v1.5h-1.5zM240.7 238.8h1.5v1.5h-1.5zM235.2 235.0h1.5v1.5h-1.5zM237.3 239.1h1.5v1.5h-1.5zM234.4 244.9h1.5v1.5h-1.5zM241.0 236.9h1.5v1.5h-1.5zM239.8 243.3h1.5v1.5h-1.5zM249.5 237.9h1.5v1.5h-1.5zM249.8 247.5h1.5v1.5h-1.5zM248.6 241.2h1.5v1.5h-1.5zM235.9 243.0h1.5v1.5h-1.5zM240.8 240.7h1.5v1.5h-1.5zM234.2 238.5h1.5v1.5h-1.5zM243.6 235.3h1.5v1.5h-1.5zM243.9 247.8h1.5v1.5h-1.5zM243.6 236.5h1.5v1.5h-1.5zM253.3 229.5h1.5v1.5h-1.5zM238.5 241.7h1.5v1.5h-1.5zM240.0 228.9h1.5v1.5h-1.5zM243.8 243.8h1.5v1.5h-1.5zM239.0 246.8h1.5v1.5h-1.5zM244.8 245.5h1.5v1.5h-1.5zM235.8 239.8h1.5v1.5h-1.5zM249.8 249.4h1.5v1.5h-1.5zM248.5 239.8h1.5v1.5h-1.5zM243.4 236.8h1.5v1.5h-1.5zM247.5 236.5h1.5v1.5h-1.5zM243.2 229.9h1.5v1.5h-1.5zM235.9 248.3h1.5v1.5h-1.5zM242.9 240.8h1.5v1.5h-1.5zM232.8 239.6h1.5v1.5h-1.5zM251.9 232.7h1.5v1.5h-1.5zM231.9 239.0h1.5v1.5h-1.5zM240.2 238.8h1.5v1.5h-1.5zM237.0 233.3h1.5v1.5h-1.5zM237.1 242.9h1.5v1.5h-1.5zM242.4 243.7h1.5v1.5h-1.5zM237.8 242.6h1.5v1.5h-1.5zM240.6 240.2h1.5v1.5h-1.5zM246.8 240.0h1.5v1.5h-1.5zM241.0 231.8h1.5v1.5h-1.5zM242.9 243.6h1.5v1.5h-1.5zM239.8 239.5h1.5v1.5h-1.5zM234.6 233.4h1.5v1.5h-1.5zM244.4 246.0h1.5v1.5h-1.5zM241.2 231.8h1.5v1.5h-1.5zM240.9 232.3h1.5v1.5h-1.5zM241.4 249.1h1.5v1.5h-1.5zM243.9 239.1h1.5v1.5h-1.5zM247.3 238.0h1.5v1.5h-1.5zM244.1 240.8h1.5v1.5h-1.5zM244.6 232.7h1.5v1.5h-1.5zM245.8 244.0h1.5v1.5h-1.5zM232.3 226.8h1.5v1.5h-1.5zM238.6 247.0h1.5v1.5h-1.5zM242.7 243.1h1.5v1.5h-1.5zM245.1 244.1h1.5v1.5h-1.5zM239.7 237.0h1.5v1.5h-1.5zM244.3 242.7h1.5v1.5h-1.5zM245.2 241.4h1.5v1.5h-1.5zM240.4 245.1h1.5v1.5h-1.5zM244.7 244.9h1.5v1.5h-1.5zM231.1 244.7h1.5v1.5h-1.5zM231.6 240.8h1.5v1.5h-1.5zM239.6 240.4h1.5v1.5h-1.5zM240.4 238.3h1.5v1.5h-1.5zM243.5 241.5h1.5v1.5h-1.5zM239.0 227.6h1.5v1.5h-1.5zM239.1 242.4h1.5v1.5h-1.5zM238.8 241.9h1.5v1.5h-1.5zM240.9 235.2h1.5v1.5h-1.5zM247.9 247.8h1.5v1.5h-1.5zM242.1 239.6h1.5v1.5h-1.5zM246.9 233.4h1.5v1.5h-1.5zM238.6 245.3h1.5v1.5h-1.5zM246.7 237.4h1.5v1.5h-1.5zM239.1 241.5h1.5v1.5h-1.5zM236.2 237.4h1.5v1.5h-1.5zM241.5 227.9h1.5v1.5h-1.5zM245.3 243.5h1.5v1.5h-1.5zM247.4 232.8h1.5v1.5h-1.5zM236.8 235.9h1.5v1.5h-1.5zM236.7 249.8h1.5v1.5h-1.5zM238.2 238.3h1.5v1.5h-1.5zM243.5 242.0h1.5v1.5h-1.5zM249.2 234.5h1.5v1.5h-1.5zM246.6 240.5h1.5v1.5h-1.5zM237.3 240.5h1.5v1.5h-1.5zM236.2 247.7h1.5v1.5h-1.5zM239.3 244.7h1.5v1.5h-1.5zM248.5 236.8h1.5v1.5h-1.5zM238.5 240.4h1.5v1.5h-1.5zM237.8 244.2h1.5v1.5h-1.5zM243.4 236.1h1.5v1.5h-1.5zM239.5 243.3h1.5v1.5h-1.5zM236.0 248.0h1.5v1.5h-1.5zM239.0 238.8h1.5v1.5h-1.5zM238.4 247.7h1.5v1.5h-1.5zM246.4 246.1h1.5v1.5h-1.5zM245.6 240.2h1.5v1.5h-1.5zM250.4 243.0h1.5v1.5h-1.5zM244.6 242.6h1.5v1.5h-1.5zM246.0 241.2h1.5v1.5h-1.5zM241.8 232.0h1.5v1.5h-1.5zM252.0 233.5h1.5v1.5h-1.5zM232.7 236.3h1.5v1.5h-1.5zM251.5 245.8h1.5v1.5h-1.5zM239.8 241.1h1.5v1.5h-1.5zM242.5 230.1h1.5v1.5h-1.5zM241.1 241.2h1.5v1.5h-1.5zM248.0 233.9h1.5v1.5h-1.5zM232.3 232.1h1.5v1.5h-1.5zM244.1 240.2h1.5v1.5h-1.5zM243.3 240.5h1.5v1.5h-1.5zM240.9 233.1h1.5v1.5h-1.5zM244.7 241.7h1.5v1.5h-1.5zM245.3 245.9h1.5v1.5h-1.5zM236.9 228.4h1.5v1.5h-1.5zM234.4 250.3h1.5v1.5h-1.5zM238.4 241.8h1.5v1.5h-1.5zM242.5 243.4h1.5v1.5h-1.5zM257.4 237.3h1.5v1.5h-1.5zM241.8 236.9h1.5v1.5h-1.5zM243.7 242.3h1.5v1.5h-1.5zM238.1 246.3h1.5v1.5h-1.5zM247.9 242.0h1.5v1.5h-1.5zM242.1 238.6h1.5v1.5h-1.5zM235.0 243.0h1.5v1.5h-1.5zM238.1 237.3h1.5v1.5h-1.5zM247.2 235.3h1.5v1.5h-1.5zM240.2 244.0h1.5v1.5h-1.5zM251.1 236.4h1.5v1.5h-1.5zM247.7 236.6h1.5v1.5h-1.5zM244.4 242.2h1.5v1.5h-1.5zM237.4 244.8h1.5v1.5h-1.5zM250.9 240.1h1.5v1.5h-1.5zM243.8 234.1h1.5v1.5h-1.5zM250.8 240.1h1.5v1.5h-1.5zM236.7 243.5h1.5v1.5h-1.5zM235.9 236.4h1.5v1.5h-1.5zM232.8 246.5h1.5v1.5h-1.5zM252.8 236.7h1.5v1.5h-1.5zM239.6 237.0h1.5v1.5h-1.5zM240.0 242.5h1.5v1.5h-1.5zM249.3 234.9h1.5v1.5h-1.5zM244.6 231.0h1.5v1.5h-1.5zM249.6 239.4h1.5v1.5h-1.5zM239.4 247.3h1.5v1.5h-1.5zM242.1 246.5h1.5v1.5h-1.5zM247.5 247.9h1.5v1.5h-1.5zM238.9 240.1h1.5v1.5h-1.5zM244.3 238.9h1.5v1.5h-1.5zM249.6 236.3h1.5v1.5h-1.5zM247.2 246.5h1.5v1.5h-1.5zM233.6 235.0h1.5v1.5h-1.5zM238.4 237.1h1.5v1.5h-1.5zM244.4 238.9h1.5v1.5h-1.5zM243.0 237.5h1.5v1.5h-1.5zM242.2 242.2h1.5v1.5h-1.5zM246.0 236.0h1.5v1.5h-1.5zM242.1 236.1h1.5v1.5h-1.5zM241.8 232.8h1.5v1.5h-1.5zM247.0 243.1h1.5v1.5h-1.5zM242.0 236.4h1.5v1.5h-1.5zM240.5 236.5h1.5v1.5h-1.5zM235.5 247.8h1.5v1.5h-1.5zM257.7 233.8h1.5v1.5h-1.5zM237.2 242.6h1.5v1.5h-1.5zM245.4 232.1h1.5v1.5h-1.5zM233.8 242.5h1.5v1.5h-1.5zM233.4 246.8h1.5v1.5h-1.5zM240.3 240.2h1.5v1.5h-1.5zM242.6 237.1h1.5v1.5h-1.5zM241.9 238.3h1.5v1.5h-1.5zM248.3 239.4h1.5v1.5h-1.5zM242.5 237.2h1.5v1.5h-1.5zM239.7 236.2h1.5v1.5h-1.5zM242.6 248.8h1.5v1.5h-1.5zM247.7 241.0h1.5v1.5h-1.5zM250.3 244.8h1.5v1.5h-1.5zM244.8 242.1h1.5v1.5h-1.5zM235.6 245.0h1.5v1.5h-1.5zM241.1 232.2h1.5v1.5h-1.5zM234.3 256.9h1.5v1.5h-1.5zM244.8 246.8h1.5v1.5h-1.5zM244.7 240.0h1.5v1.5h-1.5zM246.5 250.9h1.5v1.5h-1.5zM241.1 246.9h1.5v1.5h-1.5zM250.5 239.9h1.5v1.5h-1.5zM244.5 238.1h1.5v1.5h-1.5zM247.5 240.7h1.5v1.5h-1.5zM251.3 238.0h1.5v1.5h-1.5zM255.1 241.1h1.5v1.5h-1.5zM237.4 237.0h1.5v1.5h-1.5zM247.9 237.3h1.5v1.5h-1.5zM255.9 252.3h1.5v1.5h-1.5zM246.9 233.3h1.5v1.5h-1.5zM243.1 238.2h1.5v1.5h-1.5zM230.6 246.3h1.5v1.5h-1.5zM258.7 239.5h1.5v1.5h-1.5zM249.0 252.3h1.5v1.5h-1.5zM236.6 240.9h1.5v1.5h-1.5zM245.2 246.6h1.5v1.5h-1.5zM235.3 244.8h1.5v1.5h-1.5zM242.6 250.0h1.5v1.5h-1.5zM232.1 239.4h1.5v1.5h-1.5zM239.8 241.1h1.5v1.5h-1.5zM248.4 238.9h1.5v1.5h-1.5zM249.2 250.4h1.5v1.5h-1.5zM250.1 241.9h1.5v1.5h-1.5zM237.5 241.5h1.5v1.5h-1.5zM248.0 244.1h1.5v1.5h-1.5zM247.4 247.3h1.5v1.5h-1.5zM237.1 236.8h1.5v1.5h-1.5zM253.4 239.9h1.5v1.5h-1.5zM232.2 256.3h1.5v1.5h-1.5zM237.5 236.8h1.5v1.5h-1.5zM250.1 235.4h1.5v1.5h-1.5zM237.2 250.6h1.5v1.5h-1.5zM237.6 260.9h1.5v1.5h-1.5zM244.0 262.1h1.5v1.5h-1.5zM244.2 243.7h1.5v1.5h-1.5zM238.8 241.7h1.5v1.5h-1.5zM239.8 243.1h1.5v1.5h-1.5zM248.7 234.4h1.5v1.5h-1.5zM236.9 228.6h1.5v1.5h-1.5zM253.8 242.8h1.5v1.5h-1.5zM243.2 242.9h1.5v1.5h-1.5zM250.3 245.5h1.5v1.5h-1.5zM249.3 242.1h1.5v1.5h-1.5zM242.5 242.9h1.5v1.5h-1.5zM230.3 250.9h1.5v1.5h-1.5zM232.3 236.3h1.5v1.5h-1.5zM248.0 243.7h1.5v1.5h-1.5zM249.0 255.2h1.5v1.5h-1.5zM256.3 253.0h1.5v1.5h-1.5zM241.7 257.6h1.5v1.5h-1.5zM237.1 242.7h1.5v1.5h-1.5zM250.3 241.8h1.5v1.5h-1.5zM242.5 240.8h1.5v1.5h-1.5zM252.9 226.0h1.5v1.5h-1.5zM252.2 250.7h1.5v1.5h-1.5zM242.8 247.2h1.5v1.5h-1.5zM236.5 251.1h1.5v1.5h-1.5zM253.1 242.9h1.5v1.5h-1.5zM240.9 239.9h1.5v1.5h-1.5zM242.0 234.5h1.5v1.5h-1.5zM233.8 254.9h1.5v1.5h-1.5zM243.2 247.2h1.5v1.5h-1.5zM245.5 246.6h1.5v1.5h-1.5zM232.6 236.7h1.5v1.5h-1.5zM247.7 250.3h1.5v1.5h-1.5zM235.3 239.3h1.5v1.5h-1.5zM235.8 247.9h1.5v1.5h-1.5zM245.7 243.5h1.5v1.5h-1.5zM238.8 245.7h1.5v1.5h-1.5zM243.5 238.1h1.5v1.5h-1.5zM245.6 238.6h1.5v1.5h-1.5zM250.0 247.7h1.5v1.5h-1.5zM238.5 247.4h1.5v1.5h-1.5zM243.8 238.4h1.5v1.5h-1.5zM236.9 231.7h1.5v1.5h-1.5zM235.4 245.7h1.5v1.5h-1.5zM251.8 238.9h1.5v1.5h-1.5zM244.4 245.7h1.5v1.5h-1.5zM248.8 246.4h1.5v1.5h-1.5zM251.9 248.7h1.5v1.5h-1.5zM238.0 246.1h1.5v1.5h-1.5zM226.9 242.0h1.5v1.5h-1.5zM243.4 247.4h1.5v1.5h-1.5zM241.2 249.1h1.5v1.5h-1.5zM252.5 237.4h1.5v1.5h-1.5zM239.5 245.1h1.5v1.5h-1.5zM246.7 244.3h1.5v1.5h-1.5zM249.1 235.0h1.5v1.5h-1.5zM248.7 251.5h1.5v1.5h-1.5zM251.1 246.3h1.5v1.5h-1.5zM241.6 246.1h1.5v1.5h-1.5zM242.8 232.2h1.5v1.5h-1.5zM239.1 243.0h1.5v1.5h-1.5zM239.7 236.8h1.5v1.5h-1.5zM241.7 240.7h1.5v1.5h-1.5zM243.8 243.0h1.5v1.5h-1.5zM244.5 250.3h1.5v1.5h-1.5zM244.3 246.1h1.5v1.5h-1.5zM240.5 248.0h1.5v1.5h-1.5zM240.9 238.9h1.5v1.5h-1.5zM234.6 249.5h1.5v1.5h-1.5zM239.6 245.0h1.5v1.5h-1.5zM251.2 247.1h1.5v1.5h-1.5zM259.0 242.4h1.5v1.5h-1.5zM250.0 248.2h1.5v1.5h-1.5zM238.7 243.6h1.5v1.5h-1.5zM239.3 236.1h1.5v1.5h-1.5zM245.4 237.9h1.5v1.5h-1.5zM255.1 238.1h1.5v1.5h-1.5zM239.5 243.9h1.5v1.5h-1.5zM239.7 243.7h1.5v1.5h-1.5zM239.0 233.3h1.5v1.5h-1.5zM254.0 246.4h1.5v1.5h-1.5zM244.4 240.0h1.5v1.5h-1.5zM242.3 245.4h1.5v1.5h-1.5zM233.6 237.7h1.5v1.5h-1.5zM237.1 252.1h1.5v1.5h-1.5zM235.9 251.5h1.5v1.5h-1.5zM240.0 262.4h1.5v1.5h-1.5zM242.8 243.5h1.5v1.5h-1.5zM252.8 249.4h1.5v1.5h-1.5zM249.9 235.8h1.5v1.5h-1.5zM251.3 255.1h1.5v1.5h-1.5zM242.6 239.9h1.5v1.5h-1.5zM235.7 250.4h1.5v1.5h-1.5zM245.4 243.3h1.5v1.5h-1.5zM234.7 254.6h1.5v1.5h-1.5zM249.4 243.2h1.5v1.5h-1.5zM253.6 236.6h1.5v1.5h-1.5zM249.5 236.3h1.5v1.5h-1.5zM253.2 241.4h1.5v1.5h-1.5zM251.9 240.4h1.5v1.5h-1.5zM246.1 251.3h1.5v1.5h-1.5zM246.2 268.3h1.5v1.5h-1.5zM246.5 275.8h1.5v1.5h-1.5zM247.6 263.6h1.5v1.5h-1.5zM249.4 278.9h1.5v1.5h-1.5zM245.6 267.0h1.5v1.5h-1.5zM248.8 261.8h1.5v1.5h-1.5zM246.8 265.7h1.5v1.5h-1.5zM251.2 251.8h1.5v1.5h-1.5zM251.4 255.5h1.5v1.5h-1.5zM245.9 266.6h1.5v1.5h-1.5zM249.2 277.1h1.5v1.5h-1.5zM243.1 269.1h1.5v1.5h-1.5zM251.4 278.0h1.5v1.5h-1.5zM247.9 274.0h1.5v1.5h-1.5zM245.5 280.3h1.5v1.5h-1.5zM250.0 260.5h1.5v1.5h-1.5zM251.1 284.7h1.5v1.5h-1.5zM246.5 254.9h1.5v1.5h-1.5zM245.7 255.7h1.5v1.5h-1.5zM250.1 270.8h1.5v1.5h-1.5zM249.6 269.3h1.5v1.5h-1.5zM255.6 264.4h1.5v1.5h-1.5zM251.4 260.5h1.5v1.5h-1.5zM249.2 271.4h1.5v1.5h-1.5zM252.4 251.6h1.5v1.5h-1.5zM246.0 268.0h1.5v1.5h-1.5zM249.7 278.8h1.5v1.5h-1.5zM245.9 271.2h1.5v1.5h-1.5zM251.4 272.7h1.5v1.5h-1.5zM252.7 260.1h1.5v1.5h-1.5zM247.7 270.2h1.5v1.5h-1.5zM250.9 257.7h1.5v1.5h-1.5zM257.4 282.0h1.5v1.5h-1.5zM246.1 271.0h1.5v1.5h-1.5zM247.4 263.0h1.5v1.5h-1.5zM254.7 268.6h1.5v1.5h-1.5zM249.8 268.3h1.5v1.5h-1.5zM245.0 279.5h1.5v1.5h-1.5zM246.9 280.4h1.5v1.5h-1.5zM248.2 262.7h1.5v1.5h-1.5zM257.0 269.2h1.5v1.5h-1.5zM247.4 261.9h1.5v1.5h-1.5zM253.1 263.4h1.5v1.5h-1.5zM245.3 260.6h1.5v1.5h-1.5zM249.8 269.7h1.5v1.5h-1.5zM265.3 244.2h1.5v1.5h-1.5zM265.3 252.4h1.5v1.5h-1.5zM263.5 262.1h1.5v1.5h-1.5zM281.6 257.0h1.5v1.5h-1.5zM278.5 265.1h1.5v1.5h-1.5zM277.3 270.1h1.5v1.5h-1.5zM266.2 274.4h1.5v1.5h-1.5zM266.2 290.1h1.5v1.5h-1.5zM241.1 289.8h1.5v1.5h-1.5zM243.5 288.8h1.5v1.5h-1.5zM248.1 289.8h1.5v1.5h-1.5zM250.4 289.8h1.5v1.5h-1.5zM253.0 290.1h1.5v1.5h-1.5zM257.0 293.5h1.5v1.5h-1.5zM238.1 299.0h1.5v1.5h-1.5zM240.7 300.1h1.5v1.5h-1.5zM245.0 298.1h1.5v1.5h-1.5zM248.8 299.0h1.5v1.5h-1.5zM231.1 306.2h1.5v1.5h-1.5zM246.2 307.0h1.5v1.5h-1.5zM250.1 308.2h1.5v1.5h-1.5zM255.5 307.3h1.5v1.5h-1.5zM238.1 309.8h1.5v1.5h-1.5zM240.7 312.1h1.5v1.5h-1.5zM228.1 256.2h1.5v1.5h-1.5zM230.4 260.1h1.5v1.5h-1.5zM232.7 261.6h1.5v1.5h-1.5zM232.7 279.3h1.5v1.5h-1.5zM236.5 270.8h1.5v1.5h-1.5zM248.8 285.5h1.5v1.5h-1.5zM250.4 285.8h1.5v1.5h-1.5zM248.1 284.7h1.5v1.5h-1.5z" fill="#111"/>
<text class="b" x="227.6" y="220.5" font-size="12.2">(46.7)</text>
<path d="M378.2 315.40H383.7M380.1 307.05H383.7M380.1 302.17H383.7M380.1 298.71H383.7M380.1 296.02H383.7M380.1 293.83H383.7M380.1 291.97H383.7M380.1 290.36H383.7M380.1 288.94H383.7M378.2 287.67H383.7M380.1 279.33H383.7M380.1 274.45H383.7M380.1 270.98H383.7M380.1 268.30H383.7M380.1 266.10H383.7M380.1 264.24H383.7M380.1 262.64H383.7M380.1 261.22H383.7M378.2 259.95H383.7M380.1 251.60H383.7M380.1 246.72H383.7M380.1 243.26H383.7M380.1 240.57H383.7M380.1 238.38H383.7M380.1 236.52H383.7M380.1 234.91H383.7M380.1 233.49H383.7M378.2 232.22H383.7M380.1 223.88H383.7M380.1 219.00H383.7M380.1 215.53H383.7M380.1 212.85H383.7M380.1 210.65H383.7M380.1 208.79H383.7M380.1 207.19H383.7M380.1 205.77H383.7M378.2 204.50H383.7" stroke="#111" stroke-width="1.45" fill="none"/>
<path d="M383.70 315.6V321.0M393.70 315.6V318.4M399.55 315.6V318.4M403.70 315.6V318.4M406.92 315.6V318.4M409.55 315.6V318.4M411.78 315.6V318.4M413.71 315.6V318.4M415.40 315.6V318.4M416.93 315.6V321.0M426.93 315.6V318.4M432.78 315.6V318.4M436.93 315.6V318.4M440.15 315.6V318.4M442.78 315.6V318.4M445.00 315.6V318.4M446.93 315.6V318.4M448.63 315.6V318.4M450.15 315.6V321.0M460.15 315.6V318.4M466.00 315.6V318.4M470.15 315.6V318.4M473.37 315.6V318.4M476.00 315.6V318.4M478.23 315.6V318.4M480.16 315.6V318.4M481.85 315.6V318.4M483.38 315.6V321.0M493.38 315.6V318.4M499.23 315.6V318.4M503.38 315.6V318.4M506.60 315.6V318.4M509.23 315.6V318.4M511.45 315.6V318.4M513.38 315.6V318.4M515.08 315.6V318.4M516.60 315.6V321.0" stroke="#111" stroke-width="1.3" fill="none"/>
<rect x="383.7" y="204.5" width="132.9" height="110.9" fill="#fff"/>
<path d="M516.6 204.5V315.4" stroke="#333" stroke-width="1" fill="none"/>
<path d="M383.7 316.0V204.5H517.1" stroke="#111" stroke-width="1.35" fill="none"/>
<path d="M421.2 204.5V315.9M383.7 286.9H516.6" stroke="#111" stroke-width="1.35" fill="none"/>
<path d="M410.5 228.7h1.5v1.5h-1.5zM415.7 230.6h1.5v1.5h-1.5zM415.7 233.5h1.5v1.5h-1.5zM403.8 232.0h1.5v1.5h-1.5zM401.3 233.1h1.5v1.5h-1.5zM407.0 233.5h1.5v1.5h-1.5zM409.0 235.1h1.5v1.5h-1.5zM412.8 235.8h1.5v1.5h-1.5zM401.3 236.4h1.5v1.5h-1.5zM405.1 237.0h1.5v1.5h-1.5zM409.9 238.3h1.5v1.5h-1.5zM416.6 238.9h1.5v1.5h-1.5zM418.6 237.4h1.5v1.5h-1.5zM403.2 240.3h1.5v1.5h-1.5zM408.0 241.2h1.5v1.5h-1.5zM411.8 242.2h1.5v1.5h-1.5zM395.5 243.1h1.5v1.5h-1.5zM402.2 243.1h1.5v1.5h-1.5zM405.1 243.5h1.5v1.5h-1.5zM409.0 245.1h1.5v1.5h-1.5zM412.8 246.0h1.5v1.5h-1.5zM415.7 247.4h1.5v1.5h-1.5zM400.3 247.0h1.5v1.5h-1.5zM404.1 248.5h1.5v1.5h-1.5zM405.1 249.9h1.5v1.5h-1.5zM392.6 248.5h1.5v1.5h-1.5zM392.6 250.5h1.5v1.5h-1.5zM397.4 252.8h1.5v1.5h-1.5zM400.3 254.7h1.5v1.5h-1.5zM402.2 255.6h1.5v1.5h-1.5zM407.0 253.7h1.5v1.5h-1.5zM408.0 255.6h1.5v1.5h-1.5zM410.9 254.3h1.5v1.5h-1.5zM415.7 255.1h1.5v1.5h-1.5zM399.3 260.5h1.5v1.5h-1.5zM410.9 262.0h1.5v1.5h-1.5zM412.8 264.7h1.5v1.5h-1.5zM414.7 268.1h1.5v1.5h-1.5zM412.8 270.1h1.5v1.5h-1.5zM410.9 272.4h1.5v1.5h-1.5zM399.3 270.1h1.5v1.5h-1.5zM402.2 278.3h1.5v1.5h-1.5zM407.0 283.0h1.5v1.5h-1.5zM398.0 284.5h1.5v1.5h-1.5zM419.5 278.1h1.5v1.5h-1.5zM406.1 239.3h1.5v1.5h-1.5zM404.1 241.2h1.5v1.5h-1.5zM398.4 248.9h1.5v1.5h-1.5zM408.0 237.4h1.5v1.5h-1.5zM413.8 233.5h1.5v1.5h-1.5zM404.5 242.4h1.5v1.5h-1.5zM403.8 249.3h1.5v1.5h-1.5zM408.4 254.3h1.5v1.5h-1.5zM401.8 237.8h1.5v1.5h-1.5zM411.5 237.0h1.5v1.5h-1.5zM426.8 244.1h1.5v1.5h-1.5zM424.3 249.9h1.5v1.5h-1.5zM428.2 250.5h1.5v1.5h-1.5zM431.1 250.5h1.5v1.5h-1.5zM434.9 252.4h1.5v1.5h-1.5zM429.5 254.7h1.5v1.5h-1.5zM440.3 255.6h1.5v1.5h-1.5zM437.8 258.1h1.5v1.5h-1.5zM422.4 259.5h1.5v1.5h-1.5zM432.6 261.4h1.5v1.5h-1.5zM438.8 261.4h1.5v1.5h-1.5zM427.2 263.3h1.5v1.5h-1.5zM434.0 263.9h1.5v1.5h-1.5zM422.4 264.3h1.5v1.5h-1.5zM432.6 265.3h1.5v1.5h-1.5zM430.1 268.1h1.5v1.5h-1.5zM432.0 269.7h1.5v1.5h-1.5zM455.1 257.0h1.5v1.5h-1.5zM454.1 264.7h1.5v1.5h-1.5zM451.3 269.1h1.5v1.5h-1.5zM406.1 293.5h1.5v1.5h-1.5zM407.6 287.0h1.5v1.5h-1.5zM452.2 286.4h1.5v1.5h-1.5zM455.1 293.5h1.5v1.5h-1.5zM452.2 308.1h1.5v1.5h-1.5z" fill="#111"/>
<text class="b" x="387.6" y="218.5" font-size="12.2">(6.4)</text>
<path d="M46.2 263.5V77h3v186.5z" fill="#111"/><path d="M47.7 69L53 78.5H42.4z" fill="#111"/>
<path d="M133.5 334.3H409.5v2.8H133.5z" fill="#111"/><path d="M419.5 335.7L408.5 340.3V331.1z" fill="#111"/>
<text class="b" x="1.6" y="176.8" font-size="14">CD56</text>
<text class="b" x="257" y="358.6" font-size="13.6">CD3</text>
<text class="b" x="0.5" y="395.6" font-size="16.3">B</text>
<text class="b tl" x="87.8" y="407.08" font-size="9.4" text-anchor="end">50</text>
<text class="b tl" x="87.8" y="435.42" font-size="9.4" text-anchor="end">40</text>
<text class="b tl" x="87.8" y="463.76" font-size="9.4" text-anchor="end">30</text>
<text class="b tl" x="87.8" y="492.10" font-size="9.4" text-anchor="end">20</text>
<text class="b tl" x="87.8" y="520.44" font-size="9.4" text-anchor="end">10</text>
<text class="b tl" x="87.8" y="548.78" font-size="9.4" text-anchor="end">0</text>
<path d="M100.2 402.9V546.3M94.9 403.70H100.2M94.9 432.04H100.2M94.9 460.38H100.2M94.9 488.72H100.2M94.9 517.06H100.2M94.9 545.40H100.2" stroke="#111" stroke-width="1.9" fill="none"/>
<path d="M95.7 545.4H321.8" stroke="#111" stroke-width="1.8" fill="none"/>
<path d="M117.50 540.7V538.6M111 538.6H124" stroke="#111" stroke-width="1.3" fill="none"/>
<rect x="104.6" y="540.7" width="25.40" height="4.70" fill="#fff" stroke="#111" stroke-width="1.8"/>
<path d="M155.00 417.8V409.6M148.8 409.6H161.2" stroke="#111" stroke-width="1.3" fill="none"/>
<rect x="141.6" y="417.8" width="25.80" height="127.60" fill="#0a0a0a" stroke="#111" stroke-width="1.8"/>
<path d="M191.60 432.2V418.8M184.6 418.8H198.6" stroke="#111" stroke-width="1.3" fill="none"/>
<rect x="178.2" y="432.2" width="26.10" height="113.20" fill="url(#hatch)" stroke="#111" stroke-width="1.8"/>
<path d="M228.50 497.4V475.6M222.5 475.6H234.5" stroke="#111" stroke-width="1.3" fill="none"/>
<rect x="215.7" y="497.4" width="25.50" height="48.00" fill="url(#vstripe)" stroke="#111" stroke-width="1.8"/>
<path d="M266.60 418.8V413.6M260.2 413.6H273" stroke="#111" stroke-width="1.3" fill="none"/>
<rect x="253.8" y="418.8" width="26.00" height="126.60" fill="url(#check)" stroke="#111" stroke-width="1.8"/>
<path d="M303.50 531.8V527M297.6 527H309.4" stroke="#111" stroke-width="1.3" fill="none"/>
<rect x="290.6" y="531.8" width="26.00" height="13.60" fill="url(#xhatch)" stroke="#111" stroke-width="1.8"/>
<path d="M184.5 408.8H232M262.5 403.8H310" stroke="#777" stroke-width="1.1" fill="none"/>
<text class="b" x="211" y="407.6" font-size="14" text-anchor="middle">*</text>
<text class="b" x="288.6" y="404.6" font-size="14" text-anchor="middle" letter-spacing="0.8">**</text>
<text class="b rot" font-size="10.9" transform="translate(61.4 536.5) rotate(-90)">% of CD3<tspan font-size="7" dy="-4">-</tspan><tspan dy="4">CD56</tspan><tspan font-size="7" dy="-4">+</tspan><tspan dy="4"> NK cell</tspan></text>
<text class="b tl" x="90.2" y="576.74" font-size="7.6" text-anchor="end">20000</text>
<text class="b tl" x="90.2" y="606.69" font-size="7.6" text-anchor="end">15000</text>
<text class="b tl" x="90.2" y="631.94" font-size="7.6" text-anchor="end">10000</text>
<text class="b tl" x="90.2" y="660.39" font-size="7.6" text-anchor="end">5000</text>
<text class="b tl" x="83.6" y="688.84" font-size="7.6" text-anchor="end">0</text>
<path d="M99.9 572.4000000000001V686.6999999999999M94.60000000000001 573.20H99.9M94.60000000000001 601.35H99.9M94.60000000000001 629.50H99.9M94.60000000000001 657.65H99.9M94.60000000000001 685.80H99.9" stroke="#111" stroke-width="1.9" fill="none"/>
<path d="M95.4 685.8H319.5" stroke="#111" stroke-width="1.8" fill="none"/>
<path d="M117.50 683.9V683.2M111 683.2H124" stroke="#111" stroke-width="1.3" fill="none"/>
<rect x="104" y="683.9" width="26.00" height="1.90" fill="#fff" stroke="#111" stroke-width="1.8"/>
<path d="M154.30 585.8V583.2M148.2 583.2H160.4" stroke="#111" stroke-width="1.3" fill="none"/>
<rect x="141.4" y="585.8" width="25.60" height="100.00" fill="#0a0a0a" stroke="#111" stroke-width="1.8"/>
<path d="M191.00 600V591.8M184.6 591.8H197.4" stroke="#111" stroke-width="1.3" fill="none"/>
<rect x="177.6" y="600" width="26.00" height="85.80" fill="url(#hatch)" stroke="#111" stroke-width="1.8"/>
<path d="M227.00 656.4V655M221 655H233" stroke="#111" stroke-width="1.3" fill="none"/>
<rect x="214.5" y="656.4" width="25.50" height="29.40" fill="url(#vstripe2)" stroke="#111" stroke-width="1.8"/>
<path d="M264.40 581.8V577M258.8 577H270" stroke="#111" stroke-width="1.3" fill="none"/>
<rect x="251.3" y="581.8" width="25.70" height="104.00" fill="url(#check2)" stroke="#111" stroke-width="1.8"/>
<path d="M300.90 675V671.8M295 671.8H306.8" stroke="#111" stroke-width="1.3" fill="none"/>
<rect x="287.6" y="675" width="26.10" height="10.80" fill="url(#xhatch)" stroke="#111" stroke-width="1.8"/>
<path d="M186.2 583H233M257 572H303.8" stroke="#777" stroke-width="1.1" fill="none"/>
<text class="b" x="210.4" y="584.2" font-size="14" text-anchor="middle" letter-spacing="0.8">**</text>
<text class="b" x="281.2" y="572.2" font-size="14" text-anchor="middle" letter-spacing="0.8">**</text>
<text class="b rot" font-size="10.9" transform="translate(43.4 680.2) rotate(-90)">Absolute number of</text>
<text class="b rot" font-size="10.9" transform="translate(56.3 680.2) rotate(-90)">CD3<tspan font-size="7" dy="-4">-</tspan><tspan dy="4"> CD56</tspan><tspan font-size="7" dy="-4">+</tspan><tspan dy="4"> NK cells</tspan></text>
<rect x="374.7" y="569.8000000000001" width="24.8" height="5.8" fill="#fff" stroke="#0a0a0a" stroke-width="1.9"/>
<text x="411.8" y="575.3" font-size="11.8" fill="#000" stroke="#000" stroke-width="0.15">media</text>
<rect x="374.7" y="583.5" width="24.8" height="5.8" fill="#111" stroke="#0a0a0a" stroke-width="1.9"/>
<text x="411.8" y="590.2" font-size="11.8" fill="#000" stroke="#000" stroke-width="0.15">IL-15</text>
<rect x="374.7" y="597.4000000000001" width="24.8" height="5.8" fill="url(#hatch)" stroke="#0a0a0a" stroke-width="1.9"/>
<text x="411.8" y="604.1" font-size="11.8" fill="#000" stroke="#000" stroke-width="0.15">IL-15 + irrelevant-Fc</text>
<rect x="374.7" y="611.3000000000001" width="24.8" height="5.8" fill="url(#vstripe2)" stroke="#0a0a0a" stroke-width="1.9"/>
<text x="411.8" y="618.0" font-size="11.8" fill="#000" stroke="#000" stroke-width="0.15">IL-15 + Axl-Fc</text>
<rect x="374.7" y="625.3000000000001" width="24.8" height="5.8" fill="url(#check)" stroke="#0a0a0a" stroke-width="1.9"/>
<text x="411.8" y="632.0" font-size="11.8" fill="#000" stroke="#000" stroke-width="0.15">IL-15 + DMSO</text>
<rect x="374.7" y="639.2" width="24.8" height="5.8" fill="url(#xhatch)" stroke="#0a0a0a" stroke-width="1.9"/>
<text x="411.8" y="645.9" font-size="11.8" fill="#000" stroke="#000" stroke-width="0.15">IL-15 + warfarin</text>
<text class="b" x="86.7" y="724.8" font-size="16.3">C</text>
<rect x="150" y="723.5" width="189" height="192.5" fill="#fff" stroke="#111" stroke-width="1.4"/>
<path d="M147.5 723.50H150" stroke="#555" stroke-width="0.8"/>
<text class="b" x="131.20000000000002" y="727.80" font-size="11.6" textLength="10.6" lengthAdjust="spacingAndGlyphs">30</text>
<path d="M147.5 787.67H150" stroke="#555" stroke-width="0.8"/>
<text class="b" x="131.20000000000002" y="791.97" font-size="11.6" textLength="10.6" lengthAdjust="spacingAndGlyphs">20</text>
<path d="M147.5 851.83H150" stroke="#555" stroke-width="0.8"/>
<text class="b" x="131.20000000000002" y="856.13" font-size="11.6" textLength="10.6" lengthAdjust="spacingAndGlyphs">10</text>
<path d="M147.5 916.00H150" stroke="#555" stroke-width="0.8"/>
<text class="b" x="136.5" y="920.30" font-size="11.6" textLength="5.3" lengthAdjust="spacingAndGlyphs">0</text>
<path d="M185.50 889.8V884.4M183.7 884.4H187.3" stroke="#444" stroke-width="0.9" fill="none"/>
<rect x="170.8" y="889.8" width="29.50" height="26.20" fill="#fff" stroke="#444" stroke-width="1"/>
<path d="M244.00 788.4V773.8M242 773.8H246" stroke="#222" stroke-width="0.9" fill="none"/>
<rect x="229.3" y="788.4" width="29.10" height="127.60" fill="#050505" stroke="#222" stroke-width="1"/>
<path d="M302.30 876V862.5M300.3 862.5H304.3" stroke="#555" stroke-width="0.9" fill="none"/>
<rect x="287.8" y="876" width="28.50" height="40.00" fill="#b4b4b4" stroke="#555" stroke-width="1"/>
<path d="M229.8 762.2H311.4" stroke="#666" stroke-width="1" fill="none"/>
<text class="b" x="271.7" y="759.5" font-size="10" text-anchor="middle" fill="#222">*</text>
<text class="serif rot" font-size="12.2" transform="translate(117.7 888.5) rotate(-90)">% of CD3<tspan font-size="7.5" dy="-4">-</tspan><tspan dy="4">CD56</tspan><tspan font-size="7.5" dy="-4">+</tspan><tspan dy="4"> NK cells</tspan></text>
<rect x="346.3" y="793" width="94" height="52" fill="#fff" stroke="#d0d0d0" stroke-width="1"/>
<rect x="349.2" y="800.8" width="5.6" height="6" fill="#fff" stroke="#444" stroke-width="0.9"/>
<text x="357.3" y="807.8" font-size="11" textLength="23.5" lengthAdjust="spacingAndGlyphs">media</text>
<rect x="349.2" y="818.2" width="5.6" height="6" fill="#050505" stroke="#444" stroke-width="0.9"/>
<text x="357.3" y="825.2" font-size="11" textLength="79.2" lengthAdjust="spacingAndGlyphs">IL-15 + irrelevant Fc</text>
<rect x="349.2" y="835" width="5.6" height="6" fill="#aaa" stroke="#444" stroke-width="0.9"/>
<text x="357.3" y="842" font-size="11" textLength="56" lengthAdjust="spacingAndGlyphs">IL-15 + Axl-Fc</text>
</svg></body></html>
